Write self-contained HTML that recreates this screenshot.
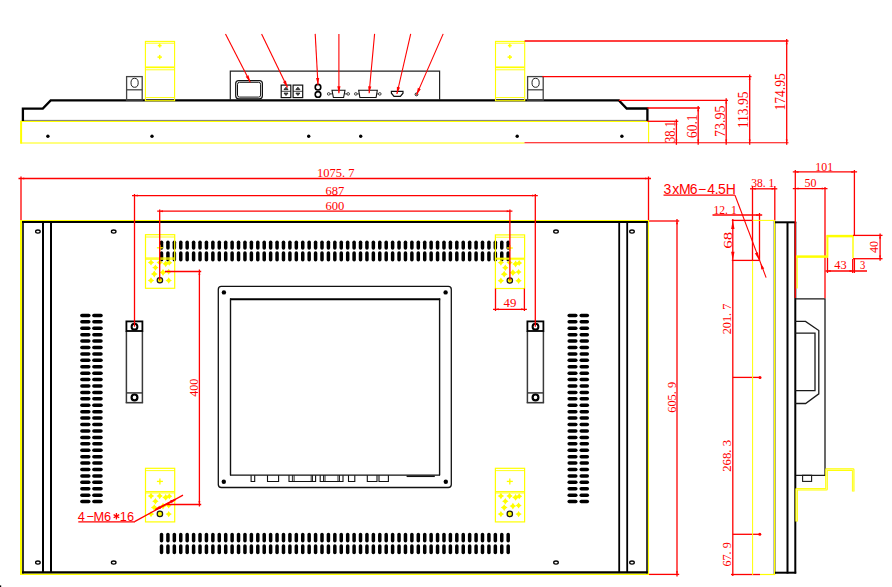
<!DOCTYPE html>
<html><head><meta charset="utf-8"><title>drawing</title>
<style>
html,body{margin:0;padding:0;background:#ffffff;width:892px;height:587px;overflow:hidden;}
svg{display:block;}
</style></head>
<body>
<svg width="892" height="587" viewBox="0 0 892 587">
<rect x="0" y="0" width="892" height="587" fill="#ffffff"/>
<line x1="20.50" y1="121.30" x2="648.60" y2="121.30" stroke="#ffff00" stroke-width="1.2"/>
<line x1="20.50" y1="143.00" x2="524.50" y2="143.00" stroke="#ffff00" stroke-width="1.2"/>
<line x1="21.10" y1="120.80" x2="21.10" y2="143.60" stroke="#ffff00" stroke-width="2.0"/>
<line x1="648.60" y1="121.20" x2="648.60" y2="142.80" stroke="#ffff00" stroke-width="1.1"/>
<line x1="22.00" y1="120.40" x2="647.50" y2="120.40" stroke="#6a6a6a" stroke-width="0.9"/>
<circle cx="47.90" cy="136.20" r="1.7" fill="#000000"/>
<circle cx="152.00" cy="136.20" r="1.7" fill="#000000"/>
<circle cx="308.70" cy="136.20" r="1.7" fill="#000000"/>
<circle cx="360.70" cy="136.20" r="1.7" fill="#000000"/>
<circle cx="517.20" cy="136.20" r="1.7" fill="#000000"/>
<circle cx="621.90" cy="136.20" r="1.7" fill="#000000"/>
<polyline points="22.90,121.00 22.90,108.60 42.80,108.60 50.70,100.40 618.90,100.40 626.70,108.50 647.40,108.50 647.40,121.00" fill="none" stroke="#000000" stroke-width="2.3" stroke-linejoin="miter"/>
<rect x="145.40" y="41.40" width="29.20" height="59.30" rx="0" fill="none" stroke="#ffff00" stroke-width="1.1"/>
<line x1="145.40" y1="43.20" x2="174.60" y2="43.20" stroke="#ffff00" stroke-width="0.9"/>
<line x1="145.40" y1="67.30" x2="174.60" y2="67.30" stroke="#ffff00" stroke-width="1.7"/>
<line x1="145.40" y1="69.80" x2="174.60" y2="69.80" stroke="#ffff00" stroke-width="0.9"/>
<line x1="145.90" y1="97.50" x2="174.10" y2="97.50" stroke="#ffff00" stroke-width="0.9"/>
<line x1="157.80" y1="45.60" x2="161.60" y2="45.60" stroke="#ffff00" stroke-width="1.5"/>
<line x1="159.70" y1="43.70" x2="159.70" y2="47.50" stroke="#ffff00" stroke-width="1.5"/>
<line x1="157.50" y1="57.10" x2="161.90" y2="57.10" stroke="#ffff00" stroke-width="1.5"/>
<line x1="159.70" y1="54.90" x2="159.70" y2="59.30" stroke="#ffff00" stroke-width="1.5"/>
<rect x="495.50" y="41.40" width="29.20" height="59.30" rx="0" fill="none" stroke="#ffff00" stroke-width="1.1"/>
<line x1="495.50" y1="43.20" x2="524.70" y2="43.20" stroke="#ffff00" stroke-width="0.9"/>
<line x1="495.50" y1="67.30" x2="524.70" y2="67.30" stroke="#ffff00" stroke-width="1.7"/>
<line x1="495.50" y1="69.80" x2="524.70" y2="69.80" stroke="#ffff00" stroke-width="0.9"/>
<line x1="496.00" y1="97.50" x2="524.20" y2="97.50" stroke="#ffff00" stroke-width="0.9"/>
<line x1="507.90" y1="45.60" x2="511.70" y2="45.60" stroke="#ffff00" stroke-width="1.5"/>
<line x1="509.80" y1="43.70" x2="509.80" y2="47.50" stroke="#ffff00" stroke-width="1.5"/>
<line x1="507.60" y1="57.10" x2="512.00" y2="57.10" stroke="#ffff00" stroke-width="1.5"/>
<line x1="509.80" y1="54.90" x2="509.80" y2="59.30" stroke="#ffff00" stroke-width="1.5"/>
<rect x="126.60" y="76.60" width="15.60" height="23.60" rx="0" fill="none" stroke="#444" stroke-width="1.3"/>
<line x1="126.60" y1="89.80" x2="142.20" y2="89.80" stroke="#444" stroke-width="1.3"/>
<ellipse cx="134.60" cy="82.80" rx="3.6" ry="4.5" fill="none" stroke="#222" stroke-width="1.0"/>
<rect x="527.60" y="76.60" width="15.60" height="23.60" rx="0" fill="none" stroke="#444" stroke-width="1.3"/>
<line x1="527.60" y1="89.80" x2="543.20" y2="89.80" stroke="#444" stroke-width="1.3"/>
<ellipse cx="535.60" cy="82.80" rx="3.6" ry="4.5" fill="none" stroke="#222" stroke-width="1.0"/>
<polyline points="230.30,100.00 230.30,71.20 439.60,71.20 439.60,100.00" fill="none" stroke="#222" stroke-width="1.2"/>
<rect x="235.70" y="80.60" width="26.70" height="18.20" rx="3" fill="none" stroke="#111" stroke-width="1.2"/>
<rect x="237.50" y="82.30" width="23.10" height="14.80" rx="2" fill="none" stroke="#111" stroke-width="1.0"/>
<rect x="281.20" y="85.10" width="9.60" height="12.50" rx="0" fill="none" stroke="#111" stroke-width="1.2"/>
<line x1="281.20" y1="91.30" x2="290.80" y2="91.30" stroke="#111" stroke-width="0.8"/>
<path d="M284.0,89.6 L286.0,87.2 L288.0,89.6 Z" fill="#555" stroke="#111" stroke-width="0.8"/>
<path d="M284.0,93.1 L286.0,95.5 L288.0,93.1 Z" fill="#555" stroke="#111" stroke-width="0.8"/>
<rect x="293.10" y="85.10" width="9.60" height="12.50" rx="0" fill="none" stroke="#111" stroke-width="1.2"/>
<line x1="293.10" y1="91.30" x2="302.70" y2="91.30" stroke="#111" stroke-width="0.8"/>
<path d="M295.90000000000003,89.6 L297.90000000000003,87.2 L299.90000000000003,89.6 Z" fill="#555" stroke="#111" stroke-width="0.8"/>
<path d="M295.90000000000003,93.1 L297.90000000000003,95.5 L299.90000000000003,93.1 Z" fill="#555" stroke="#111" stroke-width="0.8"/>
<circle cx="318.00" cy="87.20" r="2.8" fill="none" stroke="#000" stroke-width="1.6"/>
<circle cx="318.00" cy="94.40" r="2.8" fill="none" stroke="#000" stroke-width="1.6"/>
<path d="M332.0,90.3 L345.0,90.3 L343.6,97.5 L333.4,97.5 Z" fill="none" stroke="#111" stroke-width="1.1"/>
<circle cx="328.70" cy="93.90" r="1.3" fill="none" stroke="#111" stroke-width="0.8"/>
<circle cx="348.20" cy="93.90" r="1.3" fill="none" stroke="#111" stroke-width="0.8"/>
<line x1="330.00" y1="93.90" x2="332.20" y2="93.90" stroke="#111" stroke-width="0.8"/>
<line x1="344.80" y1="93.90" x2="347.00" y2="93.90" stroke="#111" stroke-width="0.8"/>
<path d="M358.7,90.3 L377.3,90.3 L376.1,97.5 L359.9,97.5 Z" fill="none" stroke="#111" stroke-width="1.1"/>
<circle cx="355.80" cy="93.90" r="1.3" fill="none" stroke="#111" stroke-width="0.8"/>
<circle cx="379.80" cy="93.90" r="1.3" fill="none" stroke="#111" stroke-width="0.8"/>
<line x1="357.10" y1="93.90" x2="358.90" y2="93.90" stroke="#111" stroke-width="0.8"/>
<line x1="377.10" y1="93.90" x2="378.50" y2="93.90" stroke="#111" stroke-width="0.8"/>
<path d="M391.4,91.3 L403.0,91.3 L403.0,93.2 L400.4,96.4 L394.0,96.4 L391.4,93.2 Z" fill="none" stroke="#111" stroke-width="1.2"/>
<circle cx="416.50" cy="94.40" r="1.4" fill="none" stroke="#111" stroke-width="1.0"/>
<line x1="225.50" y1="33.90" x2="250.30" y2="82.30" stroke="#ff0000" stroke-width="1.1"/>
<path d="M250.30,82.30 L245.68,76.80 L248.53,75.34 Z" fill="#ff0000"/>
<line x1="261.60" y1="33.90" x2="287.50" y2="87.50" stroke="#ff0000" stroke-width="1.1"/>
<path d="M287.50,87.50 L283.01,81.89 L285.90,80.50 Z" fill="#ff0000"/>
<line x1="315.20" y1="33.90" x2="318.00" y2="85.00" stroke="#ff0000" stroke-width="1.1"/>
<path d="M318.00,85.00 L316.02,78.10 L319.21,77.92 Z" fill="#ff0000"/>
<line x1="338.90" y1="33.90" x2="338.90" y2="93.30" stroke="#ff0000" stroke-width="1.1"/>
<path d="M338.90,93.30 L337.30,86.30 L340.50,86.30 Z" fill="#ff0000"/>
<line x1="374.60" y1="33.90" x2="369.10" y2="93.30" stroke="#ff0000" stroke-width="1.1"/>
<path d="M369.10,93.30 L368.15,86.18 L371.34,86.48 Z" fill="#ff0000"/>
<line x1="410.70" y1="33.90" x2="396.90" y2="94.00" stroke="#ff0000" stroke-width="1.1"/>
<path d="M396.90,94.00 L396.91,86.82 L400.03,87.54 Z" fill="#ff0000"/>
<line x1="443.20" y1="33.90" x2="416.50" y2="94.90" stroke="#ff0000" stroke-width="1.1"/>
<path d="M416.50,94.90 L417.84,87.85 L420.77,89.13 Z" fill="#ff0000"/>
<line x1="524.60" y1="41.00" x2="788.50" y2="41.00" stroke="#ff0000" stroke-width="1.3"/>
<line x1="542.40" y1="76.60" x2="751.50" y2="76.60" stroke="#ff0000" stroke-width="1.3"/>
<line x1="618.90" y1="100.30" x2="728.00" y2="100.30" stroke="#ff0000" stroke-width="1.3"/>
<line x1="647.40" y1="108.00" x2="700.00" y2="108.00" stroke="#ff0000" stroke-width="1.3"/>
<line x1="647.40" y1="121.30" x2="678.30" y2="121.30" stroke="#ff0000" stroke-width="1.3"/>
<line x1="524.50" y1="142.80" x2="788.50" y2="142.80" stroke="#ff0000" stroke-width="1.1"/>
<line x1="676.40" y1="119.30" x2="676.40" y2="144.80" stroke="#ff0000" stroke-width="1.3"/>
<path d="M676.40,121.30 L677.40,124.50 L675.40,124.50 Z" fill="#ff0000"/>
<path d="M676.40,142.80 L675.40,139.60 L677.40,139.60 Z" fill="#ff0000"/>
<line x1="698.20" y1="106.00" x2="698.20" y2="144.80" stroke="#ff0000" stroke-width="1.3"/>
<path d="M698.20,108.00 L699.20,111.20 L697.20,111.20 Z" fill="#ff0000"/>
<path d="M698.20,142.80 L697.20,139.60 L699.20,139.60 Z" fill="#ff0000"/>
<line x1="726.20" y1="98.30" x2="726.20" y2="144.80" stroke="#ff0000" stroke-width="1.3"/>
<path d="M726.20,100.30 L727.20,103.50 L725.20,103.50 Z" fill="#ff0000"/>
<path d="M726.20,142.80 L725.20,139.60 L727.20,139.60 Z" fill="#ff0000"/>
<line x1="749.70" y1="74.60" x2="749.70" y2="144.80" stroke="#ff0000" stroke-width="1.3"/>
<path d="M749.70,76.60 L750.70,79.80 L748.70,79.80 Z" fill="#ff0000"/>
<path d="M749.70,142.80 L748.70,139.60 L750.70,139.60 Z" fill="#ff0000"/>
<line x1="786.70" y1="39.00" x2="786.70" y2="144.80" stroke="#ff0000" stroke-width="1.3"/>
<path d="M786.70,41.00 L787.70,44.20 L785.70,44.20 Z" fill="#ff0000"/>
<path d="M786.70,142.80 L785.70,139.60 L787.70,139.60 Z" fill="#ff0000"/>
<text x="674.80" y="143.00" font-family="Liberation Serif" font-size="13.62" fill="#ff0000" text-anchor="start" textLength="22.00" lengthAdjust="spacingAndGlyphs" transform="rotate(-90 674.80 143.00)">38.1</text>
<text x="697.00" y="138.00" font-family="Liberation Serif" font-size="13.62" fill="#ff0000" text-anchor="start" textLength="23.50" lengthAdjust="spacingAndGlyphs" transform="rotate(-90 697.00 138.00)">60.1</text>
<text x="724.90" y="136.90" font-family="Liberation Serif" font-size="13.62" fill="#ff0000" text-anchor="start" textLength="31.40" lengthAdjust="spacingAndGlyphs" transform="rotate(-90 724.90 136.90)">73.95</text>
<text x="747.60" y="128.30" font-family="Liberation Serif" font-size="13.62" fill="#ff0000" text-anchor="start" textLength="36.90" lengthAdjust="spacingAndGlyphs" transform="rotate(-90 747.60 128.30)">113.95</text>
<text x="785.40" y="110.50" font-family="Liberation Serif" font-size="13.62" fill="#ff0000" text-anchor="start" textLength="37.20" lengthAdjust="spacingAndGlyphs" transform="rotate(-90 785.40 110.50)">174.95</text>
<line x1="20.00" y1="220.50" x2="649.00" y2="220.50" stroke="#ffff00" stroke-width="1.1"/>
<line x1="21.00" y1="220.00" x2="21.00" y2="575.00" stroke="#ffff00" stroke-width="2.0"/>
<line x1="648.40" y1="220.00" x2="648.40" y2="575.00" stroke="#ffff00" stroke-width="1.3"/>
<line x1="20.00" y1="574.20" x2="649.00" y2="574.20" stroke="#ffff00" stroke-width="1.6"/>
<line x1="22.00" y1="222.00" x2="647.70" y2="222.00" stroke="#000000" stroke-width="2.0"/>
<line x1="23.00" y1="221.00" x2="23.00" y2="573.40" stroke="#000000" stroke-width="1.6"/>
<line x1="647.00" y1="221.00" x2="647.00" y2="573.40" stroke="#000000" stroke-width="1.5"/>
<line x1="22.00" y1="572.40" x2="647.70" y2="572.40" stroke="#000000" stroke-width="2.1"/>
<line x1="43.00" y1="222.00" x2="43.00" y2="572.50" stroke="#000000" stroke-width="2.0"/>
<line x1="51.00" y1="222.00" x2="51.00" y2="572.50" stroke="#000000" stroke-width="2.0"/>
<line x1="619.20" y1="222.00" x2="619.20" y2="572.50" stroke="#000000" stroke-width="1.8"/>
<line x1="627.20" y1="222.00" x2="627.20" y2="572.50" stroke="#000000" stroke-width="1.8"/>
<ellipse cx="37.90" cy="231.60" rx="2.3" ry="1.6" fill="none" stroke="#000000" stroke-width="1.3"/>
<ellipse cx="37.90" cy="562.60" rx="2.3" ry="1.6" fill="none" stroke="#000000" stroke-width="1.3"/>
<ellipse cx="113.70" cy="231.60" rx="2.3" ry="1.6" fill="none" stroke="#000000" stroke-width="1.3"/>
<ellipse cx="113.70" cy="562.60" rx="2.3" ry="1.6" fill="none" stroke="#000000" stroke-width="1.3"/>
<ellipse cx="556.00" cy="231.60" rx="2.3" ry="1.6" fill="none" stroke="#000000" stroke-width="1.3"/>
<ellipse cx="556.00" cy="562.60" rx="2.3" ry="1.6" fill="none" stroke="#000000" stroke-width="1.3"/>
<ellipse cx="632.00" cy="231.60" rx="2.3" ry="1.6" fill="none" stroke="#000000" stroke-width="1.3"/>
<ellipse cx="632.00" cy="562.60" rx="2.3" ry="1.6" fill="none" stroke="#000000" stroke-width="1.3"/>
<line x1="161.50" y1="242.30" x2="161.50" y2="248.10" stroke="#000000" stroke-width="3.5" stroke-linecap="round"/>
<line x1="161.50" y1="253.10" x2="161.50" y2="259.80" stroke="#000000" stroke-width="3.5" stroke-linecap="round"/>
<line x1="161.50" y1="534.40" x2="161.50" y2="540.80" stroke="#000000" stroke-width="3.5" stroke-linecap="round"/>
<line x1="161.50" y1="546.10" x2="161.50" y2="552.40" stroke="#000000" stroke-width="3.5" stroke-linecap="round"/>
<line x1="167.92" y1="242.30" x2="167.92" y2="248.10" stroke="#000000" stroke-width="3.5" stroke-linecap="round"/>
<line x1="167.92" y1="253.10" x2="167.92" y2="259.80" stroke="#000000" stroke-width="3.5" stroke-linecap="round"/>
<line x1="167.92" y1="534.40" x2="167.92" y2="540.80" stroke="#000000" stroke-width="3.5" stroke-linecap="round"/>
<line x1="167.92" y1="546.10" x2="167.92" y2="552.40" stroke="#000000" stroke-width="3.5" stroke-linecap="round"/>
<line x1="174.34" y1="242.30" x2="174.34" y2="248.10" stroke="#000000" stroke-width="3.5" stroke-linecap="round"/>
<line x1="174.34" y1="253.10" x2="174.34" y2="259.80" stroke="#000000" stroke-width="3.5" stroke-linecap="round"/>
<line x1="174.34" y1="534.40" x2="174.34" y2="540.80" stroke="#000000" stroke-width="3.5" stroke-linecap="round"/>
<line x1="174.34" y1="546.10" x2="174.34" y2="552.40" stroke="#000000" stroke-width="3.5" stroke-linecap="round"/>
<line x1="180.76" y1="242.30" x2="180.76" y2="248.10" stroke="#000000" stroke-width="3.5" stroke-linecap="round"/>
<line x1="180.76" y1="253.10" x2="180.76" y2="259.80" stroke="#000000" stroke-width="3.5" stroke-linecap="round"/>
<line x1="180.76" y1="534.40" x2="180.76" y2="540.80" stroke="#000000" stroke-width="3.5" stroke-linecap="round"/>
<line x1="180.76" y1="546.10" x2="180.76" y2="552.40" stroke="#000000" stroke-width="3.5" stroke-linecap="round"/>
<line x1="187.18" y1="242.30" x2="187.18" y2="248.10" stroke="#000000" stroke-width="3.5" stroke-linecap="round"/>
<line x1="187.18" y1="253.10" x2="187.18" y2="259.80" stroke="#000000" stroke-width="3.5" stroke-linecap="round"/>
<line x1="187.18" y1="534.40" x2="187.18" y2="540.80" stroke="#000000" stroke-width="3.5" stroke-linecap="round"/>
<line x1="187.18" y1="546.10" x2="187.18" y2="552.40" stroke="#000000" stroke-width="3.5" stroke-linecap="round"/>
<line x1="193.60" y1="242.30" x2="193.60" y2="248.10" stroke="#000000" stroke-width="3.5" stroke-linecap="round"/>
<line x1="193.60" y1="253.10" x2="193.60" y2="259.80" stroke="#000000" stroke-width="3.5" stroke-linecap="round"/>
<line x1="193.60" y1="534.40" x2="193.60" y2="540.80" stroke="#000000" stroke-width="3.5" stroke-linecap="round"/>
<line x1="193.60" y1="546.10" x2="193.60" y2="552.40" stroke="#000000" stroke-width="3.5" stroke-linecap="round"/>
<line x1="200.02" y1="242.30" x2="200.02" y2="248.10" stroke="#000000" stroke-width="3.5" stroke-linecap="round"/>
<line x1="200.02" y1="253.10" x2="200.02" y2="259.80" stroke="#000000" stroke-width="3.5" stroke-linecap="round"/>
<line x1="200.02" y1="534.40" x2="200.02" y2="540.80" stroke="#000000" stroke-width="3.5" stroke-linecap="round"/>
<line x1="200.02" y1="546.10" x2="200.02" y2="552.40" stroke="#000000" stroke-width="3.5" stroke-linecap="round"/>
<line x1="206.44" y1="242.30" x2="206.44" y2="248.10" stroke="#000000" stroke-width="3.5" stroke-linecap="round"/>
<line x1="206.44" y1="253.10" x2="206.44" y2="259.80" stroke="#000000" stroke-width="3.5" stroke-linecap="round"/>
<line x1="206.44" y1="534.40" x2="206.44" y2="540.80" stroke="#000000" stroke-width="3.5" stroke-linecap="round"/>
<line x1="206.44" y1="546.10" x2="206.44" y2="552.40" stroke="#000000" stroke-width="3.5" stroke-linecap="round"/>
<line x1="212.86" y1="242.30" x2="212.86" y2="248.10" stroke="#000000" stroke-width="3.5" stroke-linecap="round"/>
<line x1="212.86" y1="253.10" x2="212.86" y2="259.80" stroke="#000000" stroke-width="3.5" stroke-linecap="round"/>
<line x1="212.86" y1="534.40" x2="212.86" y2="540.80" stroke="#000000" stroke-width="3.5" stroke-linecap="round"/>
<line x1="212.86" y1="546.10" x2="212.86" y2="552.40" stroke="#000000" stroke-width="3.5" stroke-linecap="round"/>
<line x1="219.28" y1="242.30" x2="219.28" y2="248.10" stroke="#000000" stroke-width="3.5" stroke-linecap="round"/>
<line x1="219.28" y1="253.10" x2="219.28" y2="259.80" stroke="#000000" stroke-width="3.5" stroke-linecap="round"/>
<line x1="219.28" y1="534.40" x2="219.28" y2="540.80" stroke="#000000" stroke-width="3.5" stroke-linecap="round"/>
<line x1="219.28" y1="546.10" x2="219.28" y2="552.40" stroke="#000000" stroke-width="3.5" stroke-linecap="round"/>
<line x1="225.70" y1="242.30" x2="225.70" y2="248.10" stroke="#000000" stroke-width="3.5" stroke-linecap="round"/>
<line x1="225.70" y1="253.10" x2="225.70" y2="259.80" stroke="#000000" stroke-width="3.5" stroke-linecap="round"/>
<line x1="225.70" y1="534.40" x2="225.70" y2="540.80" stroke="#000000" stroke-width="3.5" stroke-linecap="round"/>
<line x1="225.70" y1="546.10" x2="225.70" y2="552.40" stroke="#000000" stroke-width="3.5" stroke-linecap="round"/>
<line x1="232.12" y1="242.30" x2="232.12" y2="248.10" stroke="#000000" stroke-width="3.5" stroke-linecap="round"/>
<line x1="232.12" y1="253.10" x2="232.12" y2="259.80" stroke="#000000" stroke-width="3.5" stroke-linecap="round"/>
<line x1="232.12" y1="534.40" x2="232.12" y2="540.80" stroke="#000000" stroke-width="3.5" stroke-linecap="round"/>
<line x1="232.12" y1="546.10" x2="232.12" y2="552.40" stroke="#000000" stroke-width="3.5" stroke-linecap="round"/>
<line x1="238.54" y1="242.30" x2="238.54" y2="248.10" stroke="#000000" stroke-width="3.5" stroke-linecap="round"/>
<line x1="238.54" y1="253.10" x2="238.54" y2="259.80" stroke="#000000" stroke-width="3.5" stroke-linecap="round"/>
<line x1="238.54" y1="534.40" x2="238.54" y2="540.80" stroke="#000000" stroke-width="3.5" stroke-linecap="round"/>
<line x1="238.54" y1="546.10" x2="238.54" y2="552.40" stroke="#000000" stroke-width="3.5" stroke-linecap="round"/>
<line x1="244.96" y1="242.30" x2="244.96" y2="248.10" stroke="#000000" stroke-width="3.5" stroke-linecap="round"/>
<line x1="244.96" y1="253.10" x2="244.96" y2="259.80" stroke="#000000" stroke-width="3.5" stroke-linecap="round"/>
<line x1="244.96" y1="534.40" x2="244.96" y2="540.80" stroke="#000000" stroke-width="3.5" stroke-linecap="round"/>
<line x1="244.96" y1="546.10" x2="244.96" y2="552.40" stroke="#000000" stroke-width="3.5" stroke-linecap="round"/>
<line x1="251.38" y1="242.30" x2="251.38" y2="248.10" stroke="#000000" stroke-width="3.5" stroke-linecap="round"/>
<line x1="251.38" y1="253.10" x2="251.38" y2="259.80" stroke="#000000" stroke-width="3.5" stroke-linecap="round"/>
<line x1="251.38" y1="534.40" x2="251.38" y2="540.80" stroke="#000000" stroke-width="3.5" stroke-linecap="round"/>
<line x1="251.38" y1="546.10" x2="251.38" y2="552.40" stroke="#000000" stroke-width="3.5" stroke-linecap="round"/>
<line x1="257.80" y1="242.30" x2="257.80" y2="248.10" stroke="#000000" stroke-width="3.5" stroke-linecap="round"/>
<line x1="257.80" y1="253.10" x2="257.80" y2="259.80" stroke="#000000" stroke-width="3.5" stroke-linecap="round"/>
<line x1="257.80" y1="534.40" x2="257.80" y2="540.80" stroke="#000000" stroke-width="3.5" stroke-linecap="round"/>
<line x1="257.80" y1="546.10" x2="257.80" y2="552.40" stroke="#000000" stroke-width="3.5" stroke-linecap="round"/>
<line x1="264.22" y1="242.30" x2="264.22" y2="248.10" stroke="#000000" stroke-width="3.5" stroke-linecap="round"/>
<line x1="264.22" y1="253.10" x2="264.22" y2="259.80" stroke="#000000" stroke-width="3.5" stroke-linecap="round"/>
<line x1="264.22" y1="534.40" x2="264.22" y2="540.80" stroke="#000000" stroke-width="3.5" stroke-linecap="round"/>
<line x1="264.22" y1="546.10" x2="264.22" y2="552.40" stroke="#000000" stroke-width="3.5" stroke-linecap="round"/>
<line x1="270.64" y1="242.30" x2="270.64" y2="248.10" stroke="#000000" stroke-width="3.5" stroke-linecap="round"/>
<line x1="270.64" y1="253.10" x2="270.64" y2="259.80" stroke="#000000" stroke-width="3.5" stroke-linecap="round"/>
<line x1="270.64" y1="534.40" x2="270.64" y2="540.80" stroke="#000000" stroke-width="3.5" stroke-linecap="round"/>
<line x1="270.64" y1="546.10" x2="270.64" y2="552.40" stroke="#000000" stroke-width="3.5" stroke-linecap="round"/>
<line x1="277.06" y1="242.30" x2="277.06" y2="248.10" stroke="#000000" stroke-width="3.5" stroke-linecap="round"/>
<line x1="277.06" y1="253.10" x2="277.06" y2="259.80" stroke="#000000" stroke-width="3.5" stroke-linecap="round"/>
<line x1="277.06" y1="534.40" x2="277.06" y2="540.80" stroke="#000000" stroke-width="3.5" stroke-linecap="round"/>
<line x1="277.06" y1="546.10" x2="277.06" y2="552.40" stroke="#000000" stroke-width="3.5" stroke-linecap="round"/>
<line x1="283.48" y1="242.30" x2="283.48" y2="248.10" stroke="#000000" stroke-width="3.5" stroke-linecap="round"/>
<line x1="283.48" y1="253.10" x2="283.48" y2="259.80" stroke="#000000" stroke-width="3.5" stroke-linecap="round"/>
<line x1="283.48" y1="534.40" x2="283.48" y2="540.80" stroke="#000000" stroke-width="3.5" stroke-linecap="round"/>
<line x1="283.48" y1="546.10" x2="283.48" y2="552.40" stroke="#000000" stroke-width="3.5" stroke-linecap="round"/>
<line x1="289.90" y1="242.30" x2="289.90" y2="248.10" stroke="#000000" stroke-width="3.5" stroke-linecap="round"/>
<line x1="289.90" y1="253.10" x2="289.90" y2="259.80" stroke="#000000" stroke-width="3.5" stroke-linecap="round"/>
<line x1="289.90" y1="534.40" x2="289.90" y2="540.80" stroke="#000000" stroke-width="3.5" stroke-linecap="round"/>
<line x1="289.90" y1="546.10" x2="289.90" y2="552.40" stroke="#000000" stroke-width="3.5" stroke-linecap="round"/>
<line x1="296.32" y1="242.30" x2="296.32" y2="248.10" stroke="#000000" stroke-width="3.5" stroke-linecap="round"/>
<line x1="296.32" y1="253.10" x2="296.32" y2="259.80" stroke="#000000" stroke-width="3.5" stroke-linecap="round"/>
<line x1="296.32" y1="534.40" x2="296.32" y2="540.80" stroke="#000000" stroke-width="3.5" stroke-linecap="round"/>
<line x1="296.32" y1="546.10" x2="296.32" y2="552.40" stroke="#000000" stroke-width="3.5" stroke-linecap="round"/>
<line x1="302.74" y1="242.30" x2="302.74" y2="248.10" stroke="#000000" stroke-width="3.5" stroke-linecap="round"/>
<line x1="302.74" y1="253.10" x2="302.74" y2="259.80" stroke="#000000" stroke-width="3.5" stroke-linecap="round"/>
<line x1="302.74" y1="534.40" x2="302.74" y2="540.80" stroke="#000000" stroke-width="3.5" stroke-linecap="round"/>
<line x1="302.74" y1="546.10" x2="302.74" y2="552.40" stroke="#000000" stroke-width="3.5" stroke-linecap="round"/>
<line x1="309.16" y1="242.30" x2="309.16" y2="248.10" stroke="#000000" stroke-width="3.5" stroke-linecap="round"/>
<line x1="309.16" y1="253.10" x2="309.16" y2="259.80" stroke="#000000" stroke-width="3.5" stroke-linecap="round"/>
<line x1="309.16" y1="534.40" x2="309.16" y2="540.80" stroke="#000000" stroke-width="3.5" stroke-linecap="round"/>
<line x1="309.16" y1="546.10" x2="309.16" y2="552.40" stroke="#000000" stroke-width="3.5" stroke-linecap="round"/>
<line x1="315.58" y1="242.30" x2="315.58" y2="248.10" stroke="#000000" stroke-width="3.5" stroke-linecap="round"/>
<line x1="315.58" y1="253.10" x2="315.58" y2="259.80" stroke="#000000" stroke-width="3.5" stroke-linecap="round"/>
<line x1="315.58" y1="534.40" x2="315.58" y2="540.80" stroke="#000000" stroke-width="3.5" stroke-linecap="round"/>
<line x1="315.58" y1="546.10" x2="315.58" y2="552.40" stroke="#000000" stroke-width="3.5" stroke-linecap="round"/>
<line x1="322.00" y1="242.30" x2="322.00" y2="248.10" stroke="#000000" stroke-width="3.5" stroke-linecap="round"/>
<line x1="322.00" y1="253.10" x2="322.00" y2="259.80" stroke="#000000" stroke-width="3.5" stroke-linecap="round"/>
<line x1="322.00" y1="534.40" x2="322.00" y2="540.80" stroke="#000000" stroke-width="3.5" stroke-linecap="round"/>
<line x1="322.00" y1="546.10" x2="322.00" y2="552.40" stroke="#000000" stroke-width="3.5" stroke-linecap="round"/>
<line x1="328.42" y1="242.30" x2="328.42" y2="248.10" stroke="#000000" stroke-width="3.5" stroke-linecap="round"/>
<line x1="328.42" y1="253.10" x2="328.42" y2="259.80" stroke="#000000" stroke-width="3.5" stroke-linecap="round"/>
<line x1="328.42" y1="534.40" x2="328.42" y2="540.80" stroke="#000000" stroke-width="3.5" stroke-linecap="round"/>
<line x1="328.42" y1="546.10" x2="328.42" y2="552.40" stroke="#000000" stroke-width="3.5" stroke-linecap="round"/>
<line x1="334.84" y1="242.30" x2="334.84" y2="248.10" stroke="#000000" stroke-width="3.5" stroke-linecap="round"/>
<line x1="334.84" y1="253.10" x2="334.84" y2="259.80" stroke="#000000" stroke-width="3.5" stroke-linecap="round"/>
<line x1="334.84" y1="534.40" x2="334.84" y2="540.80" stroke="#000000" stroke-width="3.5" stroke-linecap="round"/>
<line x1="334.84" y1="546.10" x2="334.84" y2="552.40" stroke="#000000" stroke-width="3.5" stroke-linecap="round"/>
<line x1="341.26" y1="242.30" x2="341.26" y2="248.10" stroke="#000000" stroke-width="3.5" stroke-linecap="round"/>
<line x1="341.26" y1="253.10" x2="341.26" y2="259.80" stroke="#000000" stroke-width="3.5" stroke-linecap="round"/>
<line x1="341.26" y1="534.40" x2="341.26" y2="540.80" stroke="#000000" stroke-width="3.5" stroke-linecap="round"/>
<line x1="341.26" y1="546.10" x2="341.26" y2="552.40" stroke="#000000" stroke-width="3.5" stroke-linecap="round"/>
<line x1="347.68" y1="242.30" x2="347.68" y2="248.10" stroke="#000000" stroke-width="3.5" stroke-linecap="round"/>
<line x1="347.68" y1="253.10" x2="347.68" y2="259.80" stroke="#000000" stroke-width="3.5" stroke-linecap="round"/>
<line x1="347.68" y1="534.40" x2="347.68" y2="540.80" stroke="#000000" stroke-width="3.5" stroke-linecap="round"/>
<line x1="347.68" y1="546.10" x2="347.68" y2="552.40" stroke="#000000" stroke-width="3.5" stroke-linecap="round"/>
<line x1="354.10" y1="242.30" x2="354.10" y2="248.10" stroke="#000000" stroke-width="3.5" stroke-linecap="round"/>
<line x1="354.10" y1="253.10" x2="354.10" y2="259.80" stroke="#000000" stroke-width="3.5" stroke-linecap="round"/>
<line x1="354.10" y1="534.40" x2="354.10" y2="540.80" stroke="#000000" stroke-width="3.5" stroke-linecap="round"/>
<line x1="354.10" y1="546.10" x2="354.10" y2="552.40" stroke="#000000" stroke-width="3.5" stroke-linecap="round"/>
<line x1="360.52" y1="242.30" x2="360.52" y2="248.10" stroke="#000000" stroke-width="3.5" stroke-linecap="round"/>
<line x1="360.52" y1="253.10" x2="360.52" y2="259.80" stroke="#000000" stroke-width="3.5" stroke-linecap="round"/>
<line x1="360.52" y1="534.40" x2="360.52" y2="540.80" stroke="#000000" stroke-width="3.5" stroke-linecap="round"/>
<line x1="360.52" y1="546.10" x2="360.52" y2="552.40" stroke="#000000" stroke-width="3.5" stroke-linecap="round"/>
<line x1="366.94" y1="242.30" x2="366.94" y2="248.10" stroke="#000000" stroke-width="3.5" stroke-linecap="round"/>
<line x1="366.94" y1="253.10" x2="366.94" y2="259.80" stroke="#000000" stroke-width="3.5" stroke-linecap="round"/>
<line x1="366.94" y1="534.40" x2="366.94" y2="540.80" stroke="#000000" stroke-width="3.5" stroke-linecap="round"/>
<line x1="366.94" y1="546.10" x2="366.94" y2="552.40" stroke="#000000" stroke-width="3.5" stroke-linecap="round"/>
<line x1="373.36" y1="242.30" x2="373.36" y2="248.10" stroke="#000000" stroke-width="3.5" stroke-linecap="round"/>
<line x1="373.36" y1="253.10" x2="373.36" y2="259.80" stroke="#000000" stroke-width="3.5" stroke-linecap="round"/>
<line x1="373.36" y1="534.40" x2="373.36" y2="540.80" stroke="#000000" stroke-width="3.5" stroke-linecap="round"/>
<line x1="373.36" y1="546.10" x2="373.36" y2="552.40" stroke="#000000" stroke-width="3.5" stroke-linecap="round"/>
<line x1="379.78" y1="242.30" x2="379.78" y2="248.10" stroke="#000000" stroke-width="3.5" stroke-linecap="round"/>
<line x1="379.78" y1="253.10" x2="379.78" y2="259.80" stroke="#000000" stroke-width="3.5" stroke-linecap="round"/>
<line x1="379.78" y1="534.40" x2="379.78" y2="540.80" stroke="#000000" stroke-width="3.5" stroke-linecap="round"/>
<line x1="379.78" y1="546.10" x2="379.78" y2="552.40" stroke="#000000" stroke-width="3.5" stroke-linecap="round"/>
<line x1="386.20" y1="242.30" x2="386.20" y2="248.10" stroke="#000000" stroke-width="3.5" stroke-linecap="round"/>
<line x1="386.20" y1="253.10" x2="386.20" y2="259.80" stroke="#000000" stroke-width="3.5" stroke-linecap="round"/>
<line x1="386.20" y1="534.40" x2="386.20" y2="540.80" stroke="#000000" stroke-width="3.5" stroke-linecap="round"/>
<line x1="386.20" y1="546.10" x2="386.20" y2="552.40" stroke="#000000" stroke-width="3.5" stroke-linecap="round"/>
<line x1="392.62" y1="242.30" x2="392.62" y2="248.10" stroke="#000000" stroke-width="3.5" stroke-linecap="round"/>
<line x1="392.62" y1="253.10" x2="392.62" y2="259.80" stroke="#000000" stroke-width="3.5" stroke-linecap="round"/>
<line x1="392.62" y1="534.40" x2="392.62" y2="540.80" stroke="#000000" stroke-width="3.5" stroke-linecap="round"/>
<line x1="392.62" y1="546.10" x2="392.62" y2="552.40" stroke="#000000" stroke-width="3.5" stroke-linecap="round"/>
<line x1="399.04" y1="242.30" x2="399.04" y2="248.10" stroke="#000000" stroke-width="3.5" stroke-linecap="round"/>
<line x1="399.04" y1="253.10" x2="399.04" y2="259.80" stroke="#000000" stroke-width="3.5" stroke-linecap="round"/>
<line x1="399.04" y1="534.40" x2="399.04" y2="540.80" stroke="#000000" stroke-width="3.5" stroke-linecap="round"/>
<line x1="399.04" y1="546.10" x2="399.04" y2="552.40" stroke="#000000" stroke-width="3.5" stroke-linecap="round"/>
<line x1="405.46" y1="242.30" x2="405.46" y2="248.10" stroke="#000000" stroke-width="3.5" stroke-linecap="round"/>
<line x1="405.46" y1="253.10" x2="405.46" y2="259.80" stroke="#000000" stroke-width="3.5" stroke-linecap="round"/>
<line x1="405.46" y1="534.40" x2="405.46" y2="540.80" stroke="#000000" stroke-width="3.5" stroke-linecap="round"/>
<line x1="405.46" y1="546.10" x2="405.46" y2="552.40" stroke="#000000" stroke-width="3.5" stroke-linecap="round"/>
<line x1="411.88" y1="242.30" x2="411.88" y2="248.10" stroke="#000000" stroke-width="3.5" stroke-linecap="round"/>
<line x1="411.88" y1="253.10" x2="411.88" y2="259.80" stroke="#000000" stroke-width="3.5" stroke-linecap="round"/>
<line x1="411.88" y1="534.40" x2="411.88" y2="540.80" stroke="#000000" stroke-width="3.5" stroke-linecap="round"/>
<line x1="411.88" y1="546.10" x2="411.88" y2="552.40" stroke="#000000" stroke-width="3.5" stroke-linecap="round"/>
<line x1="418.30" y1="242.30" x2="418.30" y2="248.10" stroke="#000000" stroke-width="3.5" stroke-linecap="round"/>
<line x1="418.30" y1="253.10" x2="418.30" y2="259.80" stroke="#000000" stroke-width="3.5" stroke-linecap="round"/>
<line x1="418.30" y1="534.40" x2="418.30" y2="540.80" stroke="#000000" stroke-width="3.5" stroke-linecap="round"/>
<line x1="418.30" y1="546.10" x2="418.30" y2="552.40" stroke="#000000" stroke-width="3.5" stroke-linecap="round"/>
<line x1="424.72" y1="242.30" x2="424.72" y2="248.10" stroke="#000000" stroke-width="3.5" stroke-linecap="round"/>
<line x1="424.72" y1="253.10" x2="424.72" y2="259.80" stroke="#000000" stroke-width="3.5" stroke-linecap="round"/>
<line x1="424.72" y1="534.40" x2="424.72" y2="540.80" stroke="#000000" stroke-width="3.5" stroke-linecap="round"/>
<line x1="424.72" y1="546.10" x2="424.72" y2="552.40" stroke="#000000" stroke-width="3.5" stroke-linecap="round"/>
<line x1="431.14" y1="242.30" x2="431.14" y2="248.10" stroke="#000000" stroke-width="3.5" stroke-linecap="round"/>
<line x1="431.14" y1="253.10" x2="431.14" y2="259.80" stroke="#000000" stroke-width="3.5" stroke-linecap="round"/>
<line x1="431.14" y1="534.40" x2="431.14" y2="540.80" stroke="#000000" stroke-width="3.5" stroke-linecap="round"/>
<line x1="431.14" y1="546.10" x2="431.14" y2="552.40" stroke="#000000" stroke-width="3.5" stroke-linecap="round"/>
<line x1="437.56" y1="242.30" x2="437.56" y2="248.10" stroke="#000000" stroke-width="3.5" stroke-linecap="round"/>
<line x1="437.56" y1="253.10" x2="437.56" y2="259.80" stroke="#000000" stroke-width="3.5" stroke-linecap="round"/>
<line x1="437.56" y1="534.40" x2="437.56" y2="540.80" stroke="#000000" stroke-width="3.5" stroke-linecap="round"/>
<line x1="437.56" y1="546.10" x2="437.56" y2="552.40" stroke="#000000" stroke-width="3.5" stroke-linecap="round"/>
<line x1="443.98" y1="242.30" x2="443.98" y2="248.10" stroke="#000000" stroke-width="3.5" stroke-linecap="round"/>
<line x1="443.98" y1="253.10" x2="443.98" y2="259.80" stroke="#000000" stroke-width="3.5" stroke-linecap="round"/>
<line x1="443.98" y1="534.40" x2="443.98" y2="540.80" stroke="#000000" stroke-width="3.5" stroke-linecap="round"/>
<line x1="443.98" y1="546.10" x2="443.98" y2="552.40" stroke="#000000" stroke-width="3.5" stroke-linecap="round"/>
<line x1="450.40" y1="242.30" x2="450.40" y2="248.10" stroke="#000000" stroke-width="3.5" stroke-linecap="round"/>
<line x1="450.40" y1="253.10" x2="450.40" y2="259.80" stroke="#000000" stroke-width="3.5" stroke-linecap="round"/>
<line x1="450.40" y1="534.40" x2="450.40" y2="540.80" stroke="#000000" stroke-width="3.5" stroke-linecap="round"/>
<line x1="450.40" y1="546.10" x2="450.40" y2="552.40" stroke="#000000" stroke-width="3.5" stroke-linecap="round"/>
<line x1="456.82" y1="242.30" x2="456.82" y2="248.10" stroke="#000000" stroke-width="3.5" stroke-linecap="round"/>
<line x1="456.82" y1="253.10" x2="456.82" y2="259.80" stroke="#000000" stroke-width="3.5" stroke-linecap="round"/>
<line x1="456.82" y1="534.40" x2="456.82" y2="540.80" stroke="#000000" stroke-width="3.5" stroke-linecap="round"/>
<line x1="456.82" y1="546.10" x2="456.82" y2="552.40" stroke="#000000" stroke-width="3.5" stroke-linecap="round"/>
<line x1="463.24" y1="242.30" x2="463.24" y2="248.10" stroke="#000000" stroke-width="3.5" stroke-linecap="round"/>
<line x1="463.24" y1="253.10" x2="463.24" y2="259.80" stroke="#000000" stroke-width="3.5" stroke-linecap="round"/>
<line x1="463.24" y1="534.40" x2="463.24" y2="540.80" stroke="#000000" stroke-width="3.5" stroke-linecap="round"/>
<line x1="463.24" y1="546.10" x2="463.24" y2="552.40" stroke="#000000" stroke-width="3.5" stroke-linecap="round"/>
<line x1="469.66" y1="242.30" x2="469.66" y2="248.10" stroke="#000000" stroke-width="3.5" stroke-linecap="round"/>
<line x1="469.66" y1="253.10" x2="469.66" y2="259.80" stroke="#000000" stroke-width="3.5" stroke-linecap="round"/>
<line x1="469.66" y1="534.40" x2="469.66" y2="540.80" stroke="#000000" stroke-width="3.5" stroke-linecap="round"/>
<line x1="469.66" y1="546.10" x2="469.66" y2="552.40" stroke="#000000" stroke-width="3.5" stroke-linecap="round"/>
<line x1="476.08" y1="242.30" x2="476.08" y2="248.10" stroke="#000000" stroke-width="3.5" stroke-linecap="round"/>
<line x1="476.08" y1="253.10" x2="476.08" y2="259.80" stroke="#000000" stroke-width="3.5" stroke-linecap="round"/>
<line x1="476.08" y1="534.40" x2="476.08" y2="540.80" stroke="#000000" stroke-width="3.5" stroke-linecap="round"/>
<line x1="476.08" y1="546.10" x2="476.08" y2="552.40" stroke="#000000" stroke-width="3.5" stroke-linecap="round"/>
<line x1="482.50" y1="242.30" x2="482.50" y2="248.10" stroke="#000000" stroke-width="3.5" stroke-linecap="round"/>
<line x1="482.50" y1="253.10" x2="482.50" y2="259.80" stroke="#000000" stroke-width="3.5" stroke-linecap="round"/>
<line x1="482.50" y1="534.40" x2="482.50" y2="540.80" stroke="#000000" stroke-width="3.5" stroke-linecap="round"/>
<line x1="482.50" y1="546.10" x2="482.50" y2="552.40" stroke="#000000" stroke-width="3.5" stroke-linecap="round"/>
<line x1="488.92" y1="242.30" x2="488.92" y2="248.10" stroke="#000000" stroke-width="3.5" stroke-linecap="round"/>
<line x1="488.92" y1="253.10" x2="488.92" y2="259.80" stroke="#000000" stroke-width="3.5" stroke-linecap="round"/>
<line x1="488.92" y1="534.40" x2="488.92" y2="540.80" stroke="#000000" stroke-width="3.5" stroke-linecap="round"/>
<line x1="488.92" y1="546.10" x2="488.92" y2="552.40" stroke="#000000" stroke-width="3.5" stroke-linecap="round"/>
<line x1="495.34" y1="242.30" x2="495.34" y2="248.10" stroke="#000000" stroke-width="3.5" stroke-linecap="round"/>
<line x1="495.34" y1="253.10" x2="495.34" y2="259.80" stroke="#000000" stroke-width="3.5" stroke-linecap="round"/>
<line x1="495.34" y1="534.40" x2="495.34" y2="540.80" stroke="#000000" stroke-width="3.5" stroke-linecap="round"/>
<line x1="495.34" y1="546.10" x2="495.34" y2="552.40" stroke="#000000" stroke-width="3.5" stroke-linecap="round"/>
<line x1="501.76" y1="242.30" x2="501.76" y2="248.10" stroke="#000000" stroke-width="3.5" stroke-linecap="round"/>
<line x1="501.76" y1="253.10" x2="501.76" y2="259.80" stroke="#000000" stroke-width="3.5" stroke-linecap="round"/>
<line x1="501.76" y1="534.40" x2="501.76" y2="540.80" stroke="#000000" stroke-width="3.5" stroke-linecap="round"/>
<line x1="501.76" y1="546.10" x2="501.76" y2="552.40" stroke="#000000" stroke-width="3.5" stroke-linecap="round"/>
<line x1="508.18" y1="242.30" x2="508.18" y2="248.10" stroke="#000000" stroke-width="3.5" stroke-linecap="round"/>
<line x1="508.18" y1="253.10" x2="508.18" y2="259.80" stroke="#000000" stroke-width="3.5" stroke-linecap="round"/>
<line x1="508.18" y1="534.40" x2="508.18" y2="540.80" stroke="#000000" stroke-width="3.5" stroke-linecap="round"/>
<line x1="508.18" y1="546.10" x2="508.18" y2="552.40" stroke="#000000" stroke-width="3.5" stroke-linecap="round"/>
<line x1="81.90" y1="315.40" x2="88.80" y2="315.40" stroke="#000000" stroke-width="3.5" stroke-linecap="round"/>
<line x1="93.90" y1="315.40" x2="101.00" y2="315.40" stroke="#000000" stroke-width="3.5" stroke-linecap="round"/>
<line x1="569.20" y1="315.40" x2="575.80" y2="315.40" stroke="#000000" stroke-width="3.5" stroke-linecap="round"/>
<line x1="581.20" y1="315.40" x2="587.30" y2="315.40" stroke="#000000" stroke-width="3.5" stroke-linecap="round"/>
<line x1="81.90" y1="321.82" x2="88.80" y2="321.82" stroke="#000000" stroke-width="3.5" stroke-linecap="round"/>
<line x1="93.90" y1="321.82" x2="101.00" y2="321.82" stroke="#000000" stroke-width="3.5" stroke-linecap="round"/>
<line x1="569.20" y1="321.82" x2="575.80" y2="321.82" stroke="#000000" stroke-width="3.5" stroke-linecap="round"/>
<line x1="581.20" y1="321.82" x2="587.30" y2="321.82" stroke="#000000" stroke-width="3.5" stroke-linecap="round"/>
<line x1="81.90" y1="328.24" x2="88.80" y2="328.24" stroke="#000000" stroke-width="3.5" stroke-linecap="round"/>
<line x1="93.90" y1="328.24" x2="101.00" y2="328.24" stroke="#000000" stroke-width="3.5" stroke-linecap="round"/>
<line x1="569.20" y1="328.24" x2="575.80" y2="328.24" stroke="#000000" stroke-width="3.5" stroke-linecap="round"/>
<line x1="581.20" y1="328.24" x2="587.30" y2="328.24" stroke="#000000" stroke-width="3.5" stroke-linecap="round"/>
<line x1="81.90" y1="334.66" x2="88.80" y2="334.66" stroke="#000000" stroke-width="3.5" stroke-linecap="round"/>
<line x1="93.90" y1="334.66" x2="101.00" y2="334.66" stroke="#000000" stroke-width="3.5" stroke-linecap="round"/>
<line x1="569.20" y1="334.66" x2="575.80" y2="334.66" stroke="#000000" stroke-width="3.5" stroke-linecap="round"/>
<line x1="581.20" y1="334.66" x2="587.30" y2="334.66" stroke="#000000" stroke-width="3.5" stroke-linecap="round"/>
<line x1="81.90" y1="341.08" x2="88.80" y2="341.08" stroke="#000000" stroke-width="3.5" stroke-linecap="round"/>
<line x1="93.90" y1="341.08" x2="101.00" y2="341.08" stroke="#000000" stroke-width="3.5" stroke-linecap="round"/>
<line x1="569.20" y1="341.08" x2="575.80" y2="341.08" stroke="#000000" stroke-width="3.5" stroke-linecap="round"/>
<line x1="581.20" y1="341.08" x2="587.30" y2="341.08" stroke="#000000" stroke-width="3.5" stroke-linecap="round"/>
<line x1="81.90" y1="347.50" x2="88.80" y2="347.50" stroke="#000000" stroke-width="3.5" stroke-linecap="round"/>
<line x1="93.90" y1="347.50" x2="101.00" y2="347.50" stroke="#000000" stroke-width="3.5" stroke-linecap="round"/>
<line x1="569.20" y1="347.50" x2="575.80" y2="347.50" stroke="#000000" stroke-width="3.5" stroke-linecap="round"/>
<line x1="581.20" y1="347.50" x2="587.30" y2="347.50" stroke="#000000" stroke-width="3.5" stroke-linecap="round"/>
<line x1="81.90" y1="353.92" x2="88.80" y2="353.92" stroke="#000000" stroke-width="3.5" stroke-linecap="round"/>
<line x1="93.90" y1="353.92" x2="101.00" y2="353.92" stroke="#000000" stroke-width="3.5" stroke-linecap="round"/>
<line x1="569.20" y1="353.92" x2="575.80" y2="353.92" stroke="#000000" stroke-width="3.5" stroke-linecap="round"/>
<line x1="581.20" y1="353.92" x2="587.30" y2="353.92" stroke="#000000" stroke-width="3.5" stroke-linecap="round"/>
<line x1="81.90" y1="360.34" x2="88.80" y2="360.34" stroke="#000000" stroke-width="3.5" stroke-linecap="round"/>
<line x1="93.90" y1="360.34" x2="101.00" y2="360.34" stroke="#000000" stroke-width="3.5" stroke-linecap="round"/>
<line x1="569.20" y1="360.34" x2="575.80" y2="360.34" stroke="#000000" stroke-width="3.5" stroke-linecap="round"/>
<line x1="581.20" y1="360.34" x2="587.30" y2="360.34" stroke="#000000" stroke-width="3.5" stroke-linecap="round"/>
<line x1="81.90" y1="366.76" x2="88.80" y2="366.76" stroke="#000000" stroke-width="3.5" stroke-linecap="round"/>
<line x1="93.90" y1="366.76" x2="101.00" y2="366.76" stroke="#000000" stroke-width="3.5" stroke-linecap="round"/>
<line x1="569.20" y1="366.76" x2="575.80" y2="366.76" stroke="#000000" stroke-width="3.5" stroke-linecap="round"/>
<line x1="581.20" y1="366.76" x2="587.30" y2="366.76" stroke="#000000" stroke-width="3.5" stroke-linecap="round"/>
<line x1="81.90" y1="373.18" x2="88.80" y2="373.18" stroke="#000000" stroke-width="3.5" stroke-linecap="round"/>
<line x1="93.90" y1="373.18" x2="101.00" y2="373.18" stroke="#000000" stroke-width="3.5" stroke-linecap="round"/>
<line x1="569.20" y1="373.18" x2="575.80" y2="373.18" stroke="#000000" stroke-width="3.5" stroke-linecap="round"/>
<line x1="581.20" y1="373.18" x2="587.30" y2="373.18" stroke="#000000" stroke-width="3.5" stroke-linecap="round"/>
<line x1="81.90" y1="379.60" x2="88.80" y2="379.60" stroke="#000000" stroke-width="3.5" stroke-linecap="round"/>
<line x1="93.90" y1="379.60" x2="101.00" y2="379.60" stroke="#000000" stroke-width="3.5" stroke-linecap="round"/>
<line x1="569.20" y1="379.60" x2="575.80" y2="379.60" stroke="#000000" stroke-width="3.5" stroke-linecap="round"/>
<line x1="581.20" y1="379.60" x2="587.30" y2="379.60" stroke="#000000" stroke-width="3.5" stroke-linecap="round"/>
<line x1="81.90" y1="386.02" x2="88.80" y2="386.02" stroke="#000000" stroke-width="3.5" stroke-linecap="round"/>
<line x1="93.90" y1="386.02" x2="101.00" y2="386.02" stroke="#000000" stroke-width="3.5" stroke-linecap="round"/>
<line x1="569.20" y1="386.02" x2="575.80" y2="386.02" stroke="#000000" stroke-width="3.5" stroke-linecap="round"/>
<line x1="581.20" y1="386.02" x2="587.30" y2="386.02" stroke="#000000" stroke-width="3.5" stroke-linecap="round"/>
<line x1="81.90" y1="392.44" x2="88.80" y2="392.44" stroke="#000000" stroke-width="3.5" stroke-linecap="round"/>
<line x1="93.90" y1="392.44" x2="101.00" y2="392.44" stroke="#000000" stroke-width="3.5" stroke-linecap="round"/>
<line x1="569.20" y1="392.44" x2="575.80" y2="392.44" stroke="#000000" stroke-width="3.5" stroke-linecap="round"/>
<line x1="581.20" y1="392.44" x2="587.30" y2="392.44" stroke="#000000" stroke-width="3.5" stroke-linecap="round"/>
<line x1="81.90" y1="398.86" x2="88.80" y2="398.86" stroke="#000000" stroke-width="3.5" stroke-linecap="round"/>
<line x1="93.90" y1="398.86" x2="101.00" y2="398.86" stroke="#000000" stroke-width="3.5" stroke-linecap="round"/>
<line x1="569.20" y1="398.86" x2="575.80" y2="398.86" stroke="#000000" stroke-width="3.5" stroke-linecap="round"/>
<line x1="581.20" y1="398.86" x2="587.30" y2="398.86" stroke="#000000" stroke-width="3.5" stroke-linecap="round"/>
<line x1="81.90" y1="405.28" x2="88.80" y2="405.28" stroke="#000000" stroke-width="3.5" stroke-linecap="round"/>
<line x1="93.90" y1="405.28" x2="101.00" y2="405.28" stroke="#000000" stroke-width="3.5" stroke-linecap="round"/>
<line x1="569.20" y1="405.28" x2="575.80" y2="405.28" stroke="#000000" stroke-width="3.5" stroke-linecap="round"/>
<line x1="581.20" y1="405.28" x2="587.30" y2="405.28" stroke="#000000" stroke-width="3.5" stroke-linecap="round"/>
<line x1="81.90" y1="411.70" x2="88.80" y2="411.70" stroke="#000000" stroke-width="3.5" stroke-linecap="round"/>
<line x1="93.90" y1="411.70" x2="101.00" y2="411.70" stroke="#000000" stroke-width="3.5" stroke-linecap="round"/>
<line x1="569.20" y1="411.70" x2="575.80" y2="411.70" stroke="#000000" stroke-width="3.5" stroke-linecap="round"/>
<line x1="581.20" y1="411.70" x2="587.30" y2="411.70" stroke="#000000" stroke-width="3.5" stroke-linecap="round"/>
<line x1="81.90" y1="418.12" x2="88.80" y2="418.12" stroke="#000000" stroke-width="3.5" stroke-linecap="round"/>
<line x1="93.90" y1="418.12" x2="101.00" y2="418.12" stroke="#000000" stroke-width="3.5" stroke-linecap="round"/>
<line x1="569.20" y1="418.12" x2="575.80" y2="418.12" stroke="#000000" stroke-width="3.5" stroke-linecap="round"/>
<line x1="581.20" y1="418.12" x2="587.30" y2="418.12" stroke="#000000" stroke-width="3.5" stroke-linecap="round"/>
<line x1="81.90" y1="424.54" x2="88.80" y2="424.54" stroke="#000000" stroke-width="3.5" stroke-linecap="round"/>
<line x1="93.90" y1="424.54" x2="101.00" y2="424.54" stroke="#000000" stroke-width="3.5" stroke-linecap="round"/>
<line x1="569.20" y1="424.54" x2="575.80" y2="424.54" stroke="#000000" stroke-width="3.5" stroke-linecap="round"/>
<line x1="581.20" y1="424.54" x2="587.30" y2="424.54" stroke="#000000" stroke-width="3.5" stroke-linecap="round"/>
<line x1="81.90" y1="430.96" x2="88.80" y2="430.96" stroke="#000000" stroke-width="3.5" stroke-linecap="round"/>
<line x1="93.90" y1="430.96" x2="101.00" y2="430.96" stroke="#000000" stroke-width="3.5" stroke-linecap="round"/>
<line x1="569.20" y1="430.96" x2="575.80" y2="430.96" stroke="#000000" stroke-width="3.5" stroke-linecap="round"/>
<line x1="581.20" y1="430.96" x2="587.30" y2="430.96" stroke="#000000" stroke-width="3.5" stroke-linecap="round"/>
<line x1="81.90" y1="437.38" x2="88.80" y2="437.38" stroke="#000000" stroke-width="3.5" stroke-linecap="round"/>
<line x1="93.90" y1="437.38" x2="101.00" y2="437.38" stroke="#000000" stroke-width="3.5" stroke-linecap="round"/>
<line x1="569.20" y1="437.38" x2="575.80" y2="437.38" stroke="#000000" stroke-width="3.5" stroke-linecap="round"/>
<line x1="581.20" y1="437.38" x2="587.30" y2="437.38" stroke="#000000" stroke-width="3.5" stroke-linecap="round"/>
<line x1="81.90" y1="443.80" x2="88.80" y2="443.80" stroke="#000000" stroke-width="3.5" stroke-linecap="round"/>
<line x1="93.90" y1="443.80" x2="101.00" y2="443.80" stroke="#000000" stroke-width="3.5" stroke-linecap="round"/>
<line x1="569.20" y1="443.80" x2="575.80" y2="443.80" stroke="#000000" stroke-width="3.5" stroke-linecap="round"/>
<line x1="581.20" y1="443.80" x2="587.30" y2="443.80" stroke="#000000" stroke-width="3.5" stroke-linecap="round"/>
<line x1="81.90" y1="450.22" x2="88.80" y2="450.22" stroke="#000000" stroke-width="3.5" stroke-linecap="round"/>
<line x1="93.90" y1="450.22" x2="101.00" y2="450.22" stroke="#000000" stroke-width="3.5" stroke-linecap="round"/>
<line x1="569.20" y1="450.22" x2="575.80" y2="450.22" stroke="#000000" stroke-width="3.5" stroke-linecap="round"/>
<line x1="581.20" y1="450.22" x2="587.30" y2="450.22" stroke="#000000" stroke-width="3.5" stroke-linecap="round"/>
<line x1="81.90" y1="456.64" x2="88.80" y2="456.64" stroke="#000000" stroke-width="3.5" stroke-linecap="round"/>
<line x1="93.90" y1="456.64" x2="101.00" y2="456.64" stroke="#000000" stroke-width="3.5" stroke-linecap="round"/>
<line x1="569.20" y1="456.64" x2="575.80" y2="456.64" stroke="#000000" stroke-width="3.5" stroke-linecap="round"/>
<line x1="581.20" y1="456.64" x2="587.30" y2="456.64" stroke="#000000" stroke-width="3.5" stroke-linecap="round"/>
<line x1="81.90" y1="463.06" x2="88.80" y2="463.06" stroke="#000000" stroke-width="3.5" stroke-linecap="round"/>
<line x1="93.90" y1="463.06" x2="101.00" y2="463.06" stroke="#000000" stroke-width="3.5" stroke-linecap="round"/>
<line x1="569.20" y1="463.06" x2="575.80" y2="463.06" stroke="#000000" stroke-width="3.5" stroke-linecap="round"/>
<line x1="581.20" y1="463.06" x2="587.30" y2="463.06" stroke="#000000" stroke-width="3.5" stroke-linecap="round"/>
<line x1="81.90" y1="469.48" x2="88.80" y2="469.48" stroke="#000000" stroke-width="3.5" stroke-linecap="round"/>
<line x1="93.90" y1="469.48" x2="101.00" y2="469.48" stroke="#000000" stroke-width="3.5" stroke-linecap="round"/>
<line x1="569.20" y1="469.48" x2="575.80" y2="469.48" stroke="#000000" stroke-width="3.5" stroke-linecap="round"/>
<line x1="581.20" y1="469.48" x2="587.30" y2="469.48" stroke="#000000" stroke-width="3.5" stroke-linecap="round"/>
<line x1="81.90" y1="475.90" x2="88.80" y2="475.90" stroke="#000000" stroke-width="3.5" stroke-linecap="round"/>
<line x1="93.90" y1="475.90" x2="101.00" y2="475.90" stroke="#000000" stroke-width="3.5" stroke-linecap="round"/>
<line x1="569.20" y1="475.90" x2="575.80" y2="475.90" stroke="#000000" stroke-width="3.5" stroke-linecap="round"/>
<line x1="581.20" y1="475.90" x2="587.30" y2="475.90" stroke="#000000" stroke-width="3.5" stroke-linecap="round"/>
<line x1="81.90" y1="482.32" x2="88.80" y2="482.32" stroke="#000000" stroke-width="3.5" stroke-linecap="round"/>
<line x1="93.90" y1="482.32" x2="101.00" y2="482.32" stroke="#000000" stroke-width="3.5" stroke-linecap="round"/>
<line x1="569.20" y1="482.32" x2="575.80" y2="482.32" stroke="#000000" stroke-width="3.5" stroke-linecap="round"/>
<line x1="581.20" y1="482.32" x2="587.30" y2="482.32" stroke="#000000" stroke-width="3.5" stroke-linecap="round"/>
<line x1="81.90" y1="488.74" x2="88.80" y2="488.74" stroke="#000000" stroke-width="3.5" stroke-linecap="round"/>
<line x1="93.90" y1="488.74" x2="101.00" y2="488.74" stroke="#000000" stroke-width="3.5" stroke-linecap="round"/>
<line x1="569.20" y1="488.74" x2="575.80" y2="488.74" stroke="#000000" stroke-width="3.5" stroke-linecap="round"/>
<line x1="581.20" y1="488.74" x2="587.30" y2="488.74" stroke="#000000" stroke-width="3.5" stroke-linecap="round"/>
<line x1="81.90" y1="495.16" x2="88.80" y2="495.16" stroke="#000000" stroke-width="3.5" stroke-linecap="round"/>
<line x1="93.90" y1="495.16" x2="101.00" y2="495.16" stroke="#000000" stroke-width="3.5" stroke-linecap="round"/>
<line x1="569.20" y1="495.16" x2="575.80" y2="495.16" stroke="#000000" stroke-width="3.5" stroke-linecap="round"/>
<line x1="581.20" y1="495.16" x2="587.30" y2="495.16" stroke="#000000" stroke-width="3.5" stroke-linecap="round"/>
<line x1="81.90" y1="501.58" x2="88.80" y2="501.58" stroke="#000000" stroke-width="3.5" stroke-linecap="round"/>
<line x1="93.90" y1="501.58" x2="101.00" y2="501.58" stroke="#000000" stroke-width="3.5" stroke-linecap="round"/>
<line x1="569.20" y1="501.58" x2="575.80" y2="501.58" stroke="#000000" stroke-width="3.5" stroke-linecap="round"/>
<line x1="581.20" y1="501.58" x2="587.30" y2="501.58" stroke="#000000" stroke-width="3.5" stroke-linecap="round"/>
<line x1="126.40" y1="331.00" x2="126.40" y2="402.80" stroke="#3a3a3a" stroke-width="1.5"/>
<line x1="142.40" y1="331.00" x2="142.40" y2="402.80" stroke="#3a3a3a" stroke-width="1.5"/>
<rect x="126.40" y="321.40" width="16.00" height="9.60" rx="0" fill="none" stroke="#000000" stroke-width="1.8"/>
<line x1="126.40" y1="392.90" x2="142.40" y2="392.90" stroke="#3a3a3a" stroke-width="1.5"/>
<line x1="125.70" y1="402.70" x2="143.10" y2="402.70" stroke="#3a3a3a" stroke-width="1.6"/>
<circle cx="134.50" cy="326.70" r="2.9" fill="none" stroke="#000000" stroke-width="2.0"/>
<circle cx="134.50" cy="397.40" r="2.9" fill="none" stroke="#000000" stroke-width="2.2"/>
<line x1="527.40" y1="331.00" x2="527.40" y2="402.80" stroke="#3a3a3a" stroke-width="1.5"/>
<line x1="543.40" y1="331.00" x2="543.40" y2="402.80" stroke="#3a3a3a" stroke-width="1.5"/>
<rect x="527.40" y="321.40" width="16.00" height="9.60" rx="0" fill="none" stroke="#000000" stroke-width="1.8"/>
<line x1="527.40" y1="392.90" x2="543.40" y2="392.90" stroke="#3a3a3a" stroke-width="1.5"/>
<line x1="526.70" y1="402.70" x2="544.10" y2="402.70" stroke="#3a3a3a" stroke-width="1.6"/>
<circle cx="535.50" cy="326.70" r="2.9" fill="none" stroke="#000000" stroke-width="2.0"/>
<circle cx="535.50" cy="397.40" r="2.9" fill="none" stroke="#000000" stroke-width="2.2"/>
<rect x="218.30" y="286.40" width="233.00" height="201.10" rx="3" fill="none" stroke="#111" stroke-width="1.3"/>
<line x1="230.00" y1="299.30" x2="440.20" y2="299.30" stroke="#000000" stroke-width="1.9"/>
<line x1="230.50" y1="298.50" x2="230.50" y2="475.30" stroke="#111" stroke-width="1.4"/>
<line x1="439.60" y1="298.50" x2="439.60" y2="475.30" stroke="#111" stroke-width="1.4"/>
<line x1="230.00" y1="475.20" x2="440.00" y2="475.20" stroke="#111" stroke-width="1.3"/>
<circle cx="223.90" cy="292.40" r="2.2" fill="#000000"/>
<circle cx="445.60" cy="292.40" r="2.2" fill="#000000"/>
<circle cx="223.80" cy="481.70" r="2.2" fill="#000000"/>
<circle cx="445.80" cy="481.70" r="2.2" fill="#000000"/>
<polyline points="251.10,475.20 251.10,481.50 254.70,481.50 254.70,475.20" fill="none" stroke="#111" stroke-width="1.1"/>
<polyline points="267.50,475.20 267.50,481.50 278.60,481.50 278.60,475.20" fill="none" stroke="#111" stroke-width="1.1"/>
<polyline points="289.00,475.20 289.00,481.50 315.60,481.50 315.60,475.20" fill="none" stroke="#111" stroke-width="1.1"/>
<polyline points="320.20,475.20 320.20,481.50 343.00,481.50 343.00,475.20" fill="none" stroke="#111" stroke-width="1.1"/>
<polyline points="348.50,475.20 348.50,481.50 354.80,481.50 354.80,475.20" fill="none" stroke="#111" stroke-width="1.1"/>
<polyline points="367.30,475.20 367.30,481.50 377.00,481.50 377.00,475.20" fill="none" stroke="#111" stroke-width="1.1"/>
<polyline points="379.00,475.20 379.00,481.50 388.40,481.50 388.40,475.20" fill="none" stroke="#111" stroke-width="1.1"/>
<line x1="292.40" y1="475.20" x2="292.40" y2="481.50" stroke="#111" stroke-width="0.9"/>
<line x1="294.10" y1="475.20" x2="294.10" y2="481.50" stroke="#111" stroke-width="0.9"/>
<line x1="311.20" y1="475.20" x2="311.20" y2="481.50" stroke="#111" stroke-width="0.9"/>
<line x1="312.50" y1="475.20" x2="312.50" y2="481.50" stroke="#111" stroke-width="0.9"/>
<line x1="323.50" y1="475.20" x2="323.50" y2="481.50" stroke="#111" stroke-width="0.9"/>
<line x1="325.00" y1="475.20" x2="325.00" y2="481.50" stroke="#111" stroke-width="0.9"/>
<line x1="338.00" y1="475.20" x2="338.00" y2="481.50" stroke="#111" stroke-width="0.9"/>
<line x1="339.50" y1="475.20" x2="339.50" y2="481.50" stroke="#111" stroke-width="0.9"/>
<line x1="406.60" y1="476.30" x2="434.80" y2="476.30" stroke="#111" stroke-width="1.5"/>
<rect x="145.50" y="234.70" width="29.20" height="53.60" rx="0" fill="none" stroke="#ffff00" stroke-width="1.2"/>
<line x1="145.50" y1="237.00" x2="174.70" y2="237.00" stroke="#ffff00" stroke-width="0.9"/>
<line x1="145.50" y1="258.10" x2="174.70" y2="258.10" stroke="#ffff00" stroke-width="1.3"/>
<line x1="145.50" y1="259.40" x2="174.70" y2="259.40" stroke="#ffff00" stroke-width="0.8"/>
<line x1="156.90" y1="247.80" x2="162.90" y2="247.80" stroke="#ffff00" stroke-width="1.3"/>
<line x1="159.90" y1="244.80" x2="159.90" y2="250.80" stroke="#ffff00" stroke-width="1.3"/>
<circle cx="159.90" cy="247.80" r="1.0" fill="#ffff00"/>
<path d="M151.00,259.20 Q151.96,261.44 154.20,262.40 Q151.96,263.36 151.00,265.60 Q150.04,263.36 147.80,262.40 Q150.04,261.44 151.00,259.20 Z" fill="#ffff00"/>
<circle cx="151.00" cy="262.40" r="1.4400000000000002" fill="#ffff00"/>
<path d="M159.70,259.20 Q160.66,261.44 162.90,262.40 Q160.66,263.36 159.70,265.60 Q158.74,263.36 156.50,262.40 Q158.74,261.44 159.70,259.20 Z" fill="#ffff00"/>
<circle cx="159.70" cy="262.40" r="1.4400000000000002" fill="#ffff00"/>
<path d="M165.70,260.40 Q166.72,262.78 169.10,263.80 Q166.72,264.82 165.70,267.20 Q164.68,264.82 162.30,263.80 Q164.68,262.78 165.70,260.40 Z" fill="#ffff00"/>
<circle cx="165.70" cy="263.80" r="1.53" fill="#ffff00"/>
<path d="M169.30,259.70 Q170.20,261.80 172.30,262.70 Q170.20,263.60 169.30,265.70 Q168.40,263.60 166.30,262.70 Q168.40,261.80 169.30,259.70 Z" fill="#ffff00"/>
<circle cx="169.30" cy="262.70" r="1.35" fill="#ffff00"/>
<path d="M155.40,264.40 Q156.36,266.64 158.60,267.60 Q156.36,268.56 155.40,270.80 Q154.44,268.56 152.20,267.60 Q154.44,266.64 155.40,264.40 Z" fill="#ffff00"/>
<circle cx="155.40" cy="267.60" r="1.4400000000000002" fill="#ffff00"/>
<path d="M154.30,270.60 Q155.32,272.98 157.70,274.00 Q155.32,275.02 154.30,277.40 Q153.28,275.02 150.90,274.00 Q153.28,272.98 154.30,270.60 Z" fill="#ffff00"/>
<circle cx="154.30" cy="274.00" r="1.53" fill="#ffff00"/>
<path d="M163.00,269.10 Q164.02,271.48 166.40,272.50 Q164.02,273.52 163.00,275.90 Q161.98,273.52 159.60,272.50 Q161.98,271.48 163.00,269.10 Z" fill="#ffff00"/>
<circle cx="163.00" cy="272.50" r="1.53" fill="#ffff00"/>
<path d="M168.70,268.80 Q169.60,270.90 171.70,271.80 Q169.60,272.70 168.70,274.80 Q167.80,272.70 165.70,271.80 Q167.80,270.90 168.70,268.80 Z" fill="#ffff00"/>
<circle cx="168.70" cy="271.80" r="1.35" fill="#ffff00"/>
<path d="M151.00,277.30 Q151.96,279.54 154.20,280.50 Q151.96,281.46 151.00,283.70 Q150.04,281.46 147.80,280.50 Q150.04,279.54 151.00,277.30 Z" fill="#ffff00"/>
<circle cx="151.00" cy="280.50" r="1.4400000000000002" fill="#ffff00"/>
<path d="M168.70,277.30 Q169.66,279.54 171.90,280.50 Q169.66,281.46 168.70,283.70 Q167.74,281.46 165.50,280.50 Q167.74,279.54 168.70,277.30 Z" fill="#ffff00"/>
<circle cx="168.70" cy="280.50" r="1.4400000000000002" fill="#ffff00"/>
<circle cx="159.90" cy="280.30" r="2.7" fill="#ffff00" stroke="#1a1a1a" stroke-width="1.25"/>
<rect x="495.40" y="234.90" width="29.20" height="53.60" rx="0" fill="none" stroke="#ffff00" stroke-width="1.2"/>
<line x1="495.40" y1="237.20" x2="524.60" y2="237.20" stroke="#ffff00" stroke-width="0.9"/>
<line x1="495.40" y1="258.30" x2="524.60" y2="258.30" stroke="#ffff00" stroke-width="1.3"/>
<line x1="495.40" y1="259.60" x2="524.60" y2="259.60" stroke="#ffff00" stroke-width="0.8"/>
<line x1="506.80" y1="248.00" x2="512.80" y2="248.00" stroke="#ffff00" stroke-width="1.3"/>
<line x1="509.80" y1="245.00" x2="509.80" y2="251.00" stroke="#ffff00" stroke-width="1.3"/>
<circle cx="509.80" cy="248.00" r="1.0" fill="#ffff00"/>
<path d="M500.90,259.40 Q501.86,261.64 504.10,262.60 Q501.86,263.56 500.90,265.80 Q499.94,263.56 497.70,262.60 Q499.94,261.64 500.90,259.40 Z" fill="#ffff00"/>
<circle cx="500.90" cy="262.60" r="1.4400000000000002" fill="#ffff00"/>
<path d="M509.60,259.40 Q510.56,261.64 512.80,262.60 Q510.56,263.56 509.60,265.80 Q508.64,263.56 506.40,262.60 Q508.64,261.64 509.60,259.40 Z" fill="#ffff00"/>
<circle cx="509.60" cy="262.60" r="1.4400000000000002" fill="#ffff00"/>
<path d="M515.60,260.60 Q516.62,262.98 519.00,264.00 Q516.62,265.02 515.60,267.40 Q514.58,265.02 512.20,264.00 Q514.58,262.98 515.60,260.60 Z" fill="#ffff00"/>
<circle cx="515.60" cy="264.00" r="1.53" fill="#ffff00"/>
<path d="M519.20,259.90 Q520.10,262.00 522.20,262.90 Q520.10,263.80 519.20,265.90 Q518.30,263.80 516.20,262.90 Q518.30,262.00 519.20,259.90 Z" fill="#ffff00"/>
<circle cx="519.20" cy="262.90" r="1.35" fill="#ffff00"/>
<path d="M505.30,264.60 Q506.26,266.84 508.50,267.80 Q506.26,268.76 505.30,271.00 Q504.34,268.76 502.10,267.80 Q504.34,266.84 505.30,264.60 Z" fill="#ffff00"/>
<circle cx="505.30" cy="267.80" r="1.4400000000000002" fill="#ffff00"/>
<path d="M504.20,270.80 Q505.22,273.18 507.60,274.20 Q505.22,275.22 504.20,277.60 Q503.18,275.22 500.80,274.20 Q503.18,273.18 504.20,270.80 Z" fill="#ffff00"/>
<circle cx="504.20" cy="274.20" r="1.53" fill="#ffff00"/>
<path d="M512.90,269.30 Q513.92,271.68 516.30,272.70 Q513.92,273.72 512.90,276.10 Q511.88,273.72 509.50,272.70 Q511.88,271.68 512.90,269.30 Z" fill="#ffff00"/>
<circle cx="512.90" cy="272.70" r="1.53" fill="#ffff00"/>
<path d="M518.60,269.00 Q519.50,271.10 521.60,272.00 Q519.50,272.90 518.60,275.00 Q517.70,272.90 515.60,272.00 Q517.70,271.10 518.60,269.00 Z" fill="#ffff00"/>
<circle cx="518.60" cy="272.00" r="1.35" fill="#ffff00"/>
<path d="M500.90,277.50 Q501.86,279.74 504.10,280.70 Q501.86,281.66 500.90,283.90 Q499.94,281.66 497.70,280.70 Q499.94,279.74 500.90,277.50 Z" fill="#ffff00"/>
<circle cx="500.90" cy="280.70" r="1.4400000000000002" fill="#ffff00"/>
<path d="M518.60,277.50 Q519.56,279.74 521.80,280.70 Q519.56,281.66 518.60,283.90 Q517.64,281.66 515.40,280.70 Q517.64,279.74 518.60,277.50 Z" fill="#ffff00"/>
<circle cx="518.60" cy="280.70" r="1.4400000000000002" fill="#ffff00"/>
<circle cx="509.80" cy="280.50" r="2.7" fill="#ffff00" stroke="#1a1a1a" stroke-width="1.25"/>
<rect x="145.50" y="468.30" width="29.20" height="53.60" rx="0" fill="none" stroke="#ffff00" stroke-width="1.2"/>
<line x1="145.50" y1="470.60" x2="174.70" y2="470.60" stroke="#ffff00" stroke-width="0.9"/>
<line x1="145.50" y1="491.70" x2="174.70" y2="491.70" stroke="#ffff00" stroke-width="1.3"/>
<line x1="145.50" y1="493.00" x2="174.70" y2="493.00" stroke="#ffff00" stroke-width="0.8"/>
<line x1="156.90" y1="481.40" x2="162.90" y2="481.40" stroke="#ffff00" stroke-width="1.3"/>
<line x1="159.90" y1="478.40" x2="159.90" y2="484.40" stroke="#ffff00" stroke-width="1.3"/>
<circle cx="159.90" cy="481.40" r="1.0" fill="#ffff00"/>
<path d="M151.00,492.80 Q151.96,495.04 154.20,496.00 Q151.96,496.96 151.00,499.20 Q150.04,496.96 147.80,496.00 Q150.04,495.04 151.00,492.80 Z" fill="#ffff00"/>
<circle cx="151.00" cy="496.00" r="1.4400000000000002" fill="#ffff00"/>
<path d="M159.70,492.80 Q160.66,495.04 162.90,496.00 Q160.66,496.96 159.70,499.20 Q158.74,496.96 156.50,496.00 Q158.74,495.04 159.70,492.80 Z" fill="#ffff00"/>
<circle cx="159.70" cy="496.00" r="1.4400000000000002" fill="#ffff00"/>
<path d="M165.70,494.00 Q166.72,496.38 169.10,497.40 Q166.72,498.42 165.70,500.80 Q164.68,498.42 162.30,497.40 Q164.68,496.38 165.70,494.00 Z" fill="#ffff00"/>
<circle cx="165.70" cy="497.40" r="1.53" fill="#ffff00"/>
<path d="M169.30,493.30 Q170.20,495.40 172.30,496.30 Q170.20,497.20 169.30,499.30 Q168.40,497.20 166.30,496.30 Q168.40,495.40 169.30,493.30 Z" fill="#ffff00"/>
<circle cx="169.30" cy="496.30" r="1.35" fill="#ffff00"/>
<path d="M155.40,498.00 Q156.36,500.24 158.60,501.20 Q156.36,502.16 155.40,504.40 Q154.44,502.16 152.20,501.20 Q154.44,500.24 155.40,498.00 Z" fill="#ffff00"/>
<circle cx="155.40" cy="501.20" r="1.4400000000000002" fill="#ffff00"/>
<path d="M154.30,504.20 Q155.32,506.58 157.70,507.60 Q155.32,508.62 154.30,511.00 Q153.28,508.62 150.90,507.60 Q153.28,506.58 154.30,504.20 Z" fill="#ffff00"/>
<circle cx="154.30" cy="507.60" r="1.53" fill="#ffff00"/>
<path d="M163.00,502.70 Q164.02,505.08 166.40,506.10 Q164.02,507.12 163.00,509.50 Q161.98,507.12 159.60,506.10 Q161.98,505.08 163.00,502.70 Z" fill="#ffff00"/>
<circle cx="163.00" cy="506.10" r="1.53" fill="#ffff00"/>
<path d="M168.70,502.40 Q169.60,504.50 171.70,505.40 Q169.60,506.30 168.70,508.40 Q167.80,506.30 165.70,505.40 Q167.80,504.50 168.70,502.40 Z" fill="#ffff00"/>
<circle cx="168.70" cy="505.40" r="1.35" fill="#ffff00"/>
<path d="M151.00,510.90 Q151.96,513.14 154.20,514.10 Q151.96,515.06 151.00,517.30 Q150.04,515.06 147.80,514.10 Q150.04,513.14 151.00,510.90 Z" fill="#ffff00"/>
<circle cx="151.00" cy="514.10" r="1.4400000000000002" fill="#ffff00"/>
<path d="M168.70,510.90 Q169.66,513.14 171.90,514.10 Q169.66,515.06 168.70,517.30 Q167.74,515.06 165.50,514.10 Q167.74,513.14 168.70,510.90 Z" fill="#ffff00"/>
<circle cx="168.70" cy="514.10" r="1.4400000000000002" fill="#ffff00"/>
<circle cx="159.90" cy="513.90" r="2.7" fill="#ffff00" stroke="#1a1a1a" stroke-width="1.25"/>
<rect x="495.40" y="468.30" width="29.20" height="53.60" rx="0" fill="none" stroke="#ffff00" stroke-width="1.2"/>
<line x1="495.40" y1="470.60" x2="524.60" y2="470.60" stroke="#ffff00" stroke-width="0.9"/>
<line x1="495.40" y1="491.70" x2="524.60" y2="491.70" stroke="#ffff00" stroke-width="1.3"/>
<line x1="495.40" y1="493.00" x2="524.60" y2="493.00" stroke="#ffff00" stroke-width="0.8"/>
<line x1="506.80" y1="481.40" x2="512.80" y2="481.40" stroke="#ffff00" stroke-width="1.3"/>
<line x1="509.80" y1="478.40" x2="509.80" y2="484.40" stroke="#ffff00" stroke-width="1.3"/>
<circle cx="509.80" cy="481.40" r="1.0" fill="#ffff00"/>
<path d="M500.90,492.80 Q501.86,495.04 504.10,496.00 Q501.86,496.96 500.90,499.20 Q499.94,496.96 497.70,496.00 Q499.94,495.04 500.90,492.80 Z" fill="#ffff00"/>
<circle cx="500.90" cy="496.00" r="1.4400000000000002" fill="#ffff00"/>
<path d="M509.60,492.80 Q510.56,495.04 512.80,496.00 Q510.56,496.96 509.60,499.20 Q508.64,496.96 506.40,496.00 Q508.64,495.04 509.60,492.80 Z" fill="#ffff00"/>
<circle cx="509.60" cy="496.00" r="1.4400000000000002" fill="#ffff00"/>
<path d="M515.60,494.00 Q516.62,496.38 519.00,497.40 Q516.62,498.42 515.60,500.80 Q514.58,498.42 512.20,497.40 Q514.58,496.38 515.60,494.00 Z" fill="#ffff00"/>
<circle cx="515.60" cy="497.40" r="1.53" fill="#ffff00"/>
<path d="M519.20,493.30 Q520.10,495.40 522.20,496.30 Q520.10,497.20 519.20,499.30 Q518.30,497.20 516.20,496.30 Q518.30,495.40 519.20,493.30 Z" fill="#ffff00"/>
<circle cx="519.20" cy="496.30" r="1.35" fill="#ffff00"/>
<path d="M505.30,498.00 Q506.26,500.24 508.50,501.20 Q506.26,502.16 505.30,504.40 Q504.34,502.16 502.10,501.20 Q504.34,500.24 505.30,498.00 Z" fill="#ffff00"/>
<circle cx="505.30" cy="501.20" r="1.4400000000000002" fill="#ffff00"/>
<path d="M504.20,504.20 Q505.22,506.58 507.60,507.60 Q505.22,508.62 504.20,511.00 Q503.18,508.62 500.80,507.60 Q503.18,506.58 504.20,504.20 Z" fill="#ffff00"/>
<circle cx="504.20" cy="507.60" r="1.53" fill="#ffff00"/>
<path d="M512.90,502.70 Q513.92,505.08 516.30,506.10 Q513.92,507.12 512.90,509.50 Q511.88,507.12 509.50,506.10 Q511.88,505.08 512.90,502.70 Z" fill="#ffff00"/>
<circle cx="512.90" cy="506.10" r="1.53" fill="#ffff00"/>
<path d="M518.60,502.40 Q519.50,504.50 521.60,505.40 Q519.50,506.30 518.60,508.40 Q517.70,506.30 515.60,505.40 Q517.70,504.50 518.60,502.40 Z" fill="#ffff00"/>
<circle cx="518.60" cy="505.40" r="1.35" fill="#ffff00"/>
<path d="M500.90,510.90 Q501.86,513.14 504.10,514.10 Q501.86,515.06 500.90,517.30 Q499.94,515.06 497.70,514.10 Q499.94,513.14 500.90,510.90 Z" fill="#ffff00"/>
<circle cx="500.90" cy="514.10" r="1.4400000000000002" fill="#ffff00"/>
<path d="M518.60,510.90 Q519.56,513.14 521.80,514.10 Q519.56,515.06 518.60,517.30 Q517.64,515.06 515.40,514.10 Q517.64,513.14 518.60,510.90 Z" fill="#ffff00"/>
<circle cx="518.60" cy="514.10" r="1.4400000000000002" fill="#ffff00"/>
<circle cx="509.80" cy="513.90" r="2.7" fill="#ffff00" stroke="#1a1a1a" stroke-width="1.25"/>
<line x1="18.50" y1="178.50" x2="651.00" y2="178.50" stroke="#ff0000" stroke-width="1.3"/>
<path d="M21.00,178.50 L24.20,177.50 L24.20,179.50 Z" fill="#ff0000"/>
<path d="M648.50,178.50 L645.30,179.50 L645.30,177.50 Z" fill="#ff0000"/>
<line x1="21.00" y1="176.50" x2="21.00" y2="220.00" stroke="#ff0000" stroke-width="1.3"/>
<line x1="648.50" y1="176.50" x2="648.50" y2="220.00" stroke="#ff0000" stroke-width="1.3"/>
<text x="316.90" y="177.00" font-family="Liberation Serif" font-size="12.46" fill="#ff0000" text-anchor="start" textLength="37.50" lengthAdjust="spacingAndGlyphs">1075. 7</text>
<line x1="132.00" y1="195.60" x2="537.80" y2="195.60" stroke="#ff0000" stroke-width="1.3"/>
<path d="M134.50,195.60 L137.70,194.60 L137.70,196.60 Z" fill="#ff0000"/>
<path d="M535.30,195.60 L532.10,196.60 L532.10,194.60 Z" fill="#ff0000"/>
<line x1="134.50" y1="194.00" x2="134.50" y2="326.70" stroke="#ff0000" stroke-width="1.3"/>
<line x1="535.30" y1="194.00" x2="535.30" y2="326.70" stroke="#ff0000" stroke-width="1.3"/>
<text x="325.40" y="194.50" font-family="Liberation Serif" font-size="13.04" fill="#ff0000" text-anchor="start" textLength="18.90" lengthAdjust="spacingAndGlyphs">687</text>
<line x1="157.20" y1="211.20" x2="512.40" y2="211.20" stroke="#ff0000" stroke-width="1.3"/>
<path d="M159.70,211.20 L162.90,210.20 L162.90,212.20 Z" fill="#ff0000"/>
<path d="M509.90,211.20 L506.70,212.20 L506.70,210.20 Z" fill="#ff0000"/>
<line x1="159.70" y1="209.50" x2="159.70" y2="280.40" stroke="#ff0000" stroke-width="1.3"/>
<line x1="509.90" y1="209.50" x2="509.90" y2="280.60" stroke="#ff0000" stroke-width="1.3"/>
<text x="325.40" y="210.30" font-family="Liberation Serif" font-size="13.04" fill="#ff0000" text-anchor="start" textLength="18.90" lengthAdjust="spacingAndGlyphs">600</text>
<line x1="165.00" y1="271.50" x2="201.20" y2="271.50" stroke="#ff0000" stroke-width="1.3"/>
<line x1="166.80" y1="504.50" x2="201.20" y2="504.50" stroke="#ff0000" stroke-width="1.3"/>
<line x1="199.40" y1="269.50" x2="199.40" y2="506.50" stroke="#ff0000" stroke-width="1.3"/>
<path d="M199.40,271.50 L200.40,274.70 L198.40,274.70 Z" fill="#ff0000"/>
<path d="M199.40,504.50 L198.40,501.30 L200.40,501.30 Z" fill="#ff0000"/>
<text x="198.00" y="396.80" font-family="Liberation Serif" font-size="12.61" fill="#ff0000" text-anchor="start" textLength="18.10" lengthAdjust="spacingAndGlyphs" transform="rotate(-90 198.00 396.80)">400</text>
<line x1="495.50" y1="288.50" x2="495.50" y2="311.00" stroke="#ff0000" stroke-width="1.3"/>
<line x1="524.40" y1="288.50" x2="524.40" y2="311.00" stroke="#ff0000" stroke-width="1.3"/>
<line x1="493.00" y1="309.30" x2="526.90" y2="309.30" stroke="#ff0000" stroke-width="1.3"/>
<path d="M495.50,309.30 L498.70,308.30 L498.70,310.30 Z" fill="#ff0000"/>
<path d="M524.40,309.30 L521.20,310.30 L521.20,308.30 Z" fill="#ff0000"/>
<text x="503.60" y="306.80" font-family="Liberation Serif" font-size="11.59" fill="#ff0000" text-anchor="start" textLength="12.80" lengthAdjust="spacingAndGlyphs">49</text>
<line x1="649.00" y1="221.00" x2="679.20" y2="221.00" stroke="#ff0000" stroke-width="1.3"/>
<line x1="649.00" y1="574.40" x2="679.20" y2="574.40" stroke="#ff0000" stroke-width="1.3"/>
<line x1="677.00" y1="219.00" x2="677.00" y2="576.40" stroke="#ff0000" stroke-width="1.3"/>
<path d="M677.00,221.00 L678.00,224.20 L676.00,224.20 Z" fill="#ff0000"/>
<path d="M677.00,574.40 L676.00,571.20 L678.00,571.20 Z" fill="#ff0000"/>
<text x="676.30" y="412.80" font-family="Liberation Serif" font-size="13.33" fill="#ff0000" text-anchor="start" textLength="31.00" lengthAdjust="spacingAndGlyphs" transform="rotate(-90 676.30 412.80)">605. 9</text>
<text x="81.40" y="520.80" font-family="Liberation Sans" font-size="12.8" fill="#ff0000" text-anchor="middle">4</text>
<text x="90.30" y="520.80" font-family="Liberation Sans" font-size="12.8" fill="#ff0000" text-anchor="middle">−</text>
<text x="98.80" y="520.80" font-family="Liberation Sans" font-size="12.8" fill="#ff0000" text-anchor="middle">M</text>
<text x="107.60" y="520.80" font-family="Liberation Sans" font-size="12.8" fill="#ff0000" text-anchor="middle">6</text>
<text x="123.40" y="520.80" font-family="Liberation Sans" font-size="12.8" fill="#ff0000" text-anchor="middle">1</text>
<text x="130.60" y="520.80" font-family="Liberation Sans" font-size="12.8" fill="#ff0000" text-anchor="middle">6</text>
<line x1="116.40" y1="513.00" x2="116.40" y2="519.40" stroke="#ff0000" stroke-width="1.3"/>
<line x1="113.63" y1="514.60" x2="119.17" y2="517.80" stroke="#ff0000" stroke-width="1.3"/>
<line x1="113.63" y1="517.80" x2="119.17" y2="514.60" stroke="#ff0000" stroke-width="1.3"/>
<line x1="78.30" y1="521.80" x2="135.00" y2="521.80" stroke="#ff0000" stroke-width="1.2"/>
<line x1="134.60" y1="521.60" x2="183.00" y2="495.10" stroke="#ff0000" stroke-width="1.2"/>
<line x1="155.20" y1="509.80" x2="175.80" y2="499.30" stroke="#ff0000" stroke-width="1.8"/>
<path d="M155.20,509.80 L159.33,505.79 L160.87,508.82 Z" fill="#ff0000"/>
<path d="M175.80,499.30 L171.67,503.31 L170.13,500.28 Z" fill="#ff0000"/>
<text x="667.30" y="194.30" font-family="Liberation Sans" font-size="14.0" fill="#ff0000" text-anchor="middle">3</text>
<text x="675.80" y="194.30" font-family="Liberation Sans" font-size="14.0" fill="#ff0000" text-anchor="middle">x</text>
<text x="684.80" y="194.30" font-family="Liberation Sans" font-size="14.0" fill="#ff0000" text-anchor="middle">M</text>
<text x="693.60" y="194.30" font-family="Liberation Sans" font-size="14.0" fill="#ff0000" text-anchor="middle">6</text>
<text x="702.20" y="194.30" font-family="Liberation Sans" font-size="14.0" fill="#ff0000" text-anchor="middle">−</text>
<text x="711.10" y="194.30" font-family="Liberation Sans" font-size="14.0" fill="#ff0000" text-anchor="middle">4</text>
<text x="716.60" y="194.30" font-family="Liberation Sans" font-size="14.0" fill="#ff0000" text-anchor="middle">.</text>
<text x="721.90" y="194.30" font-family="Liberation Sans" font-size="14.0" fill="#ff0000" text-anchor="middle">5</text>
<text x="730.90" y="194.30" font-family="Liberation Sans" font-size="14.0" fill="#ff0000" text-anchor="middle">H</text>
<line x1="663.50" y1="195.20" x2="735.00" y2="195.20" stroke="#ff0000" stroke-width="1.2"/>
<line x1="735.00" y1="195.20" x2="766.10" y2="277.60" stroke="#ff0000" stroke-width="1.1"/>
<path d="M759.20,260.30 L754.91,253.36 L757.91,252.24 Z" fill="#ff0000"/>
<path d="M760.60,263.40 L764.26,268.42 L761.28,269.57 Z" fill="#ff0000"/>
<text x="751.20" y="187.20" font-family="Liberation Serif" font-size="12.75" fill="#ff0000" text-anchor="start" textLength="23.10" lengthAdjust="spacingAndGlyphs">38. 1</text>
<line x1="750.00" y1="188.80" x2="777.30" y2="188.80" stroke="#ff0000" stroke-width="1.3"/>
<path d="M752.50,188.80 L755.70,187.80 L755.70,189.80 Z" fill="#ff0000"/>
<path d="M774.80,188.80 L771.60,189.80 L771.60,187.80 Z" fill="#ff0000"/>
<line x1="752.50" y1="186.00" x2="752.50" y2="260.40" stroke="#ff0000" stroke-width="1.3"/>
<line x1="774.80" y1="186.00" x2="774.80" y2="220.40" stroke="#ff0000" stroke-width="1.3"/>
<text x="713.40" y="213.50" font-family="Liberation Serif" font-size="12.75" fill="#ff0000" text-anchor="start" textLength="23.40" lengthAdjust="spacingAndGlyphs">12. 1</text>
<line x1="712.50" y1="215.00" x2="762.20" y2="215.00" stroke="#ff0000" stroke-width="1.3"/>
<path d="M759.50,215.00 L756.30,216.00 L756.30,214.00 Z" fill="#ff0000"/>
<line x1="759.50" y1="213.00" x2="759.50" y2="260.40" stroke="#ff0000" stroke-width="1.3"/>
<line x1="731.80" y1="220.40" x2="752.50" y2="220.40" stroke="#ff0000" stroke-width="1.3"/>
<line x1="731.80" y1="260.40" x2="759.50" y2="260.40" stroke="#ff0000" stroke-width="1.3"/>
<line x1="732.80" y1="219.00" x2="732.80" y2="576.00" stroke="#ff0000" stroke-width="1.3"/>
<path d="M732.80,220.60 L734.50,229.10 L731.10,229.10 Z" fill="#ff0000"/>
<path d="M732.80,260.20 L731.10,251.70 L734.50,251.70 Z" fill="#ff0000"/>
<text x="731.80" y="248.70" font-family="Liberation Serif" font-size="13.04" fill="#ff0000" text-anchor="start" textLength="16.90" lengthAdjust="spacingAndGlyphs" transform="rotate(-90 731.80 248.70)">68</text>
<text x="731.40" y="334.30" font-family="Liberation Serif" font-size="13.04" fill="#ff0000" text-anchor="start" textLength="30.70" lengthAdjust="spacingAndGlyphs" transform="rotate(-90 731.40 334.30)">201. 7</text>
<line x1="732.80" y1="377.40" x2="760.00" y2="377.40" stroke="#ff0000" stroke-width="1.3"/>
<circle cx="760.00" cy="377.40" r="1.5" fill="#ff0000"/>
<text x="731.40" y="471.80" font-family="Liberation Serif" font-size="13.04" fill="#ff0000" text-anchor="start" textLength="31.90" lengthAdjust="spacingAndGlyphs" transform="rotate(-90 731.40 471.80)">268. 3</text>
<line x1="732.80" y1="534.30" x2="759.80" y2="534.30" stroke="#ff0000" stroke-width="1.3"/>
<circle cx="759.80" cy="534.30" r="1.5" fill="#ff0000"/>
<text x="731.40" y="566.50" font-family="Liberation Serif" font-size="13.04" fill="#ff0000" text-anchor="start" textLength="24.20" lengthAdjust="spacingAndGlyphs" transform="rotate(-90 731.40 566.50)">67. 9</text>
<line x1="731.00" y1="574.50" x2="760.00" y2="574.50" stroke="#ff0000" stroke-width="1.3"/>
<line x1="760.00" y1="574.50" x2="775.00" y2="574.50" stroke="#ffff00" stroke-width="1.2"/>
<line x1="752.60" y1="260.90" x2="752.60" y2="575.00" stroke="#ffff00" stroke-width="1.0"/>
<line x1="752.60" y1="220.40" x2="774.60" y2="220.40" stroke="#ffff00" stroke-width="1.0"/>
<line x1="774.65" y1="221.00" x2="774.65" y2="574.00" stroke="#8a8a98" stroke-width="2.5"/>
<line x1="774.65" y1="220.40" x2="774.65" y2="575.00" stroke="#ffff00" stroke-width="1.3"/>
<line x1="775.00" y1="222.30" x2="796.20" y2="222.30" stroke="#000000" stroke-width="2.0"/>
<line x1="787.50" y1="222.00" x2="787.50" y2="573.50" stroke="#000000" stroke-width="2.0"/>
<line x1="795.30" y1="222.00" x2="795.30" y2="573.50" stroke="#000000" stroke-width="2.0"/>
<line x1="775.00" y1="572.70" x2="796.20" y2="572.70" stroke="#000000" stroke-width="2.0"/>
<line x1="795.30" y1="170.00" x2="795.30" y2="298.00" stroke="#ff0000" stroke-width="1.3"/>
<polyline points="795.30,298.90 825.00,298.90 825.00,475.30 796.00,475.30" fill="none" stroke="#1a1a1a" stroke-width="1.3"/>
<rect x="802.60" y="475.30" width="9.00" height="6.10" rx="0" fill="none" stroke="#1a1a1a" stroke-width="1.1"/>
<polyline points="795.30,321.40 805.50,321.40 818.80,330.50 818.80,393.80 805.60,403.50 795.30,403.50" fill="none" stroke="#1a1a1a" stroke-width="1.3"/>
<polyline points="795.30,333.10 815.00,333.10 815.00,390.70 795.30,390.70" fill="none" stroke="#1a1a1a" stroke-width="1.3"/>
<line x1="825.00" y1="187.00" x2="825.00" y2="298.30" stroke="#ff0000" stroke-width="1.3"/>
<line x1="854.40" y1="170.00" x2="854.40" y2="236.00" stroke="#ff0000" stroke-width="1.3"/>
<line x1="792.80" y1="171.90" x2="857.10" y2="171.90" stroke="#ff0000" stroke-width="1.3"/>
<path d="M795.30,171.90 L798.50,170.90 L798.50,172.90 Z" fill="#ff0000"/>
<path d="M854.60,171.90 L851.40,172.90 L851.40,170.90 Z" fill="#ff0000"/>
<text x="815.30" y="171.40" font-family="Liberation Serif" font-size="12.32" fill="#ff0000" text-anchor="start" textLength="17.80" lengthAdjust="spacingAndGlyphs">101</text>
<line x1="792.80" y1="188.60" x2="827.50" y2="188.60" stroke="#ff0000" stroke-width="1.3"/>
<path d="M795.30,188.60 L798.50,187.60 L798.50,189.60 Z" fill="#ff0000"/>
<path d="M825.00,188.60 L821.80,189.60 L821.80,187.60 Z" fill="#ff0000"/>
<text x="804.50" y="187.00" font-family="Liberation Serif" font-size="12.32" fill="#ff0000" text-anchor="start" textLength="12.00" lengthAdjust="spacingAndGlyphs">50</text>
<line x1="796.00" y1="256.60" x2="827.40" y2="256.60" stroke="#ffff00" stroke-width="2.5"/>
<line x1="827.40" y1="257.60" x2="827.40" y2="235.20" stroke="#ffff00" stroke-width="2.0"/>
<line x1="826.60" y1="236.10" x2="853.60" y2="236.10" stroke="#ffff00" stroke-width="2.5"/>
<line x1="853.00" y1="235.20" x2="853.00" y2="258.20" stroke="#ffff00" stroke-width="1.4"/>
<line x1="797.10" y1="256.00" x2="797.10" y2="288.50" stroke="#ffff00" stroke-width="1.2"/>
<polyline points="796.60,521.40 796.60,489.30 826.50,489.30 826.50,469.60 853.20,469.60 853.20,491.40" fill="none" stroke="#ffff00" stroke-width="2.6" stroke-linejoin="round"/>
<polyline points="796.60,521.00 796.60,489.30 826.50,489.30 826.50,469.60 853.20,469.60 853.20,491.00" fill="none" stroke="#ffffb0" stroke-width="0.7" stroke-linejoin="round"/>
<line x1="853.00" y1="235.40" x2="882.50" y2="235.40" stroke="#ff0000" stroke-width="1.3"/>
<line x1="853.00" y1="258.70" x2="882.50" y2="258.70" stroke="#ff0000" stroke-width="1.3"/>
<line x1="880.10" y1="233.40" x2="880.10" y2="260.70" stroke="#ff0000" stroke-width="1.3"/>
<path d="M880.10,235.40 L881.10,238.60 L879.10,238.60 Z" fill="#ff0000"/>
<path d="M880.10,258.70 L879.10,255.50 L881.10,255.50 Z" fill="#ff0000"/>
<text x="878.40" y="253.00" font-family="Liberation Serif" font-size="12.17" fill="#ff0000" text-anchor="start" textLength="12.00" lengthAdjust="spacingAndGlyphs" transform="rotate(-90 878.40 253.00)">40</text>
<line x1="827.50" y1="257.80" x2="827.50" y2="273.00" stroke="#ff0000" stroke-width="1.3"/>
<line x1="852.70" y1="259.00" x2="852.70" y2="273.00" stroke="#ff0000" stroke-width="1.3"/>
<line x1="854.40" y1="258.30" x2="854.40" y2="273.00" stroke="#ff0000" stroke-width="1.3"/>
<line x1="825.50" y1="271.00" x2="867.00" y2="271.00" stroke="#ff0000" stroke-width="1.3"/>
<path d="M827.50,271.00 L830.70,270.00 L830.70,272.00 Z" fill="#ff0000"/>
<path d="M852.70,271.00 L849.50,272.00 L849.50,270.00 Z" fill="#ff0000"/>
<text x="834.30" y="269.10" font-family="Liberation Serif" font-size="12.32" fill="#ff0000" text-anchor="start" textLength="12.40" lengthAdjust="spacingAndGlyphs">43</text>
<text x="860.00" y="269.10" font-family="Liberation Serif" font-size="12.32" fill="#ff0000" text-anchor="start" textLength="5.30" lengthAdjust="spacingAndGlyphs">3</text>
<rect x="0" y="585.4" width="1.2" height="1.6" fill="#000"/>
</svg>
</body></html>
